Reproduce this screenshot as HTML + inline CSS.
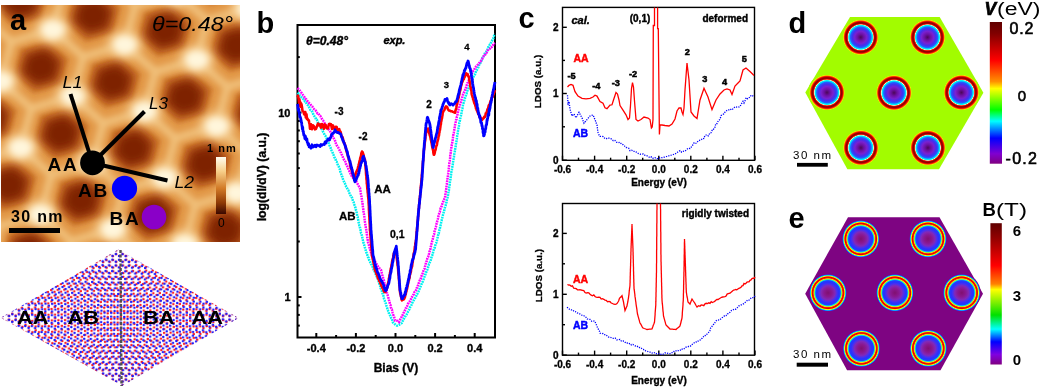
<!DOCTYPE html>
<html><head><meta charset="utf-8"><style>
html,body{margin:0;padding:0;background:#fff;width:1043px;height:388px;overflow:hidden}
svg{display:block;will-change:transform}
text{font-family:"Liberation Sans",sans-serif}
</style></head><body>
<svg width="1043" height="388" viewBox="0 0 1043 388"><defs><filter id="blur5" x="-50%" y="-50%" width="200%" height="200%"><feGaussianBlur stdDeviation="5"/></filter><filter id="blur2" x="-50%" y="-50%" width="200%" height="200%"><feGaussianBlur stdDeviation="2"/></filter><filter id="blur4" x="-50%" y="-50%" width="200%" height="200%"><feGaussianBlur stdDeviation="4"/></filter><filter id="blur3" x="-50%" y="-50%" width="200%" height="200%"><feGaussianBlur stdDeviation="3"/></filter><filter id="blur8" x="-50%" y="-50%" width="200%" height="200%"><feGaussianBlur stdDeviation="8"/></filter><clipPath id="clipA"><rect x="1" y="5" width="239" height="237"/></clipPath><linearGradient id="cbA" x1="0" y1="0" x2="0" y2="1"><stop offset="0" stop-color="#fffdf0"/><stop offset="0.25" stop-color="#f7cf8a"/><stop offset="0.55" stop-color="#d27a26"/><stop offset="0.8" stop-color="#8f3a05"/><stop offset="1" stop-color="#3a0800"/></linearGradient><radialGradient id="gD" cx="0.5" cy="0.5" r="0.5"><stop offset="0.000" stop-color="#4a0858"/><stop offset="0.158" stop-color="#6c10a0"/><stop offset="0.316" stop-color="#7a20d0"/><stop offset="0.447" stop-color="#4030f0"/><stop offset="0.542" stop-color="#2060ff"/><stop offset="0.589" stop-color="#00c8ff"/><stop offset="0.632" stop-color="#00f8f0"/><stop offset="0.663" stop-color="#d0ffd0"/><stop offset="0.689" stop-color="#ff3010"/><stop offset="0.726" stop-color="#b00000"/><stop offset="0.768" stop-color="#880000"/><stop offset="0.816" stop-color="#c00000"/><stop offset="0.853" stop-color="#ff2000"/><stop offset="0.884" stop-color="#ff9000"/><stop offset="0.911" stop-color="#e8f000"/><stop offset="0.937" stop-color="#a2fc00"/><stop offset="1.000" stop-color="#a2fc00"/></radialGradient><radialGradient id="gE" cx="0.5" cy="0.5" r="0.5"><stop offset="0.000" stop-color="#801070"/><stop offset="0.211" stop-color="#8a1890"/><stop offset="0.368" stop-color="#8228b8"/><stop offset="0.474" stop-color="#4830f0"/><stop offset="0.553" stop-color="#2a30ff"/><stop offset="0.642" stop-color="#2040ff"/><stop offset="0.679" stop-color="#00c0ff"/><stop offset="0.711" stop-color="#60ff60"/><stop offset="0.742" stop-color="#ffe000"/><stop offset="0.774" stop-color="#ff2000"/><stop offset="0.826" stop-color="#e00000"/><stop offset="0.858" stop-color="#ff6000"/><stop offset="0.884" stop-color="#ffff00"/><stop offset="0.905" stop-color="#40ff80"/><stop offset="0.926" stop-color="#00c0ff"/><stop offset="0.953" stop-color="#3030f0"/><stop offset="0.984" stop-color="#7e0482"/><stop offset="1.000" stop-color="#7e0482"/></radialGradient><linearGradient id="cbD" x1="0" y1="0" x2="0" y2="1"><stop offset="0" stop-color="#600000"/><stop offset="0.08" stop-color="#800000"/><stop offset="0.27" stop-color="#ff0000"/><stop offset="0.42" stop-color="#ff9000"/><stop offset="0.47" stop-color="#ffff00"/><stop offset="0.62" stop-color="#00ff00"/><stop offset="0.70" stop-color="#00ffff"/><stop offset="0.82" stop-color="#0000ff"/><stop offset="0.93" stop-color="#8000d0"/><stop offset="1" stop-color="#800080"/></linearGradient><linearGradient id="cbE" x1="0" y1="0" x2="0" y2="1"><stop offset="0" stop-color="#600000"/><stop offset="0.1" stop-color="#900000"/><stop offset="0.3" stop-color="#ff0000"/><stop offset="0.43" stop-color="#ff8000"/><stop offset="0.47" stop-color="#ffff00"/><stop offset="0.65" stop-color="#00e000"/><stop offset="0.75" stop-color="#00ffff"/><stop offset="0.84" stop-color="#0000ff"/><stop offset="0.93" stop-color="#8000e0"/><stop offset="1" stop-color="#800080"/></linearGradient><pattern id="latR" width="6.5818" height="11.4000" patternUnits="userSpaceOnUse" patternTransform="translate(0.8,317.8) rotate(-1.3764)"><circle cx="1.645" cy="1.900" r="1.25" fill="#ff1818"/><circle cx="4.936" cy="7.600" r="1.25" fill="#ff1818"/><circle cx="4.936" cy="3.800" r="1.25" fill="#ff1818"/><circle cx="1.645" cy="9.500" r="1.25" fill="#ff1818"/></pattern><pattern id="latB" width="6.5818" height="11.4000" patternUnits="userSpaceOnUse" patternTransform="translate(0.8,317.8) rotate(1.3764)"><circle cx="1.645" cy="1.900" r="1.25" fill="#1818ff"/><circle cx="4.936" cy="7.600" r="1.25" fill="#1818ff"/><circle cx="4.936" cy="3.800" r="1.25" fill="#1818ff"/><circle cx="1.645" cy="9.500" r="1.25" fill="#1818ff"/></pattern></defs>
<g clip-path="url(#clipA)"><rect x="0" y="0" width="245" height="245" fill="#e29848"/><polygon points="-10.4,70.2 -38.2,78.3 -58.7,60.2 -51.6,33.8 -23.8,25.7 -3.3,43.8" fill="#cc762c" filter="url(#blur2)"/><polygon points="9.6,136.7 -18.2,144.8 -38.7,126.7 -31.6,100.3 -3.8,92.2 16.7,110.3" fill="#cc762c" filter="url(#blur2)"/><polygon points="29.6,203.2 1.8,211.3 -18.7,193.2 -11.6,166.8 16.2,158.7 36.7,176.8" fill="#cc762c" filter="url(#blur2)"/><polygon points="49.6,269.7 21.8,277.8 1.3,259.7 8.4,233.3 36.2,225.2 56.7,243.3" fill="#cc762c" filter="url(#blur2)"/><polygon points="41.6,18.7 13.8,26.8 -6.7,8.7 0.4,-17.7 28.2,-25.8 48.7,-7.7" fill="#cc762c" filter="url(#blur2)"/><polygon points="61.6,85.2 33.8,93.3 13.3,75.2 20.4,48.8 48.2,40.7 68.7,58.8" fill="#cc762c" filter="url(#blur2)"/><polygon points="81.6,151.7 53.8,159.8 33.3,141.7 40.4,115.3 68.2,107.2 88.7,125.3" fill="#cc762c" filter="url(#blur2)"/><polygon points="101.6,218.2 73.8,226.3 53.3,208.2 60.4,181.8 88.2,173.7 108.7,191.8" fill="#cc762c" filter="url(#blur2)"/><polygon points="121.6,284.7 93.8,292.8 73.3,274.7 80.4,248.3 108.2,240.2 128.7,258.3" fill="#cc762c" filter="url(#blur2)"/><polygon points="113.6,33.7 85.8,41.8 65.3,23.7 72.4,-2.7 100.2,-10.8 120.7,7.3" fill="#cc762c" filter="url(#blur2)"/><polygon points="133.6,100.2 105.8,108.3 85.3,90.2 92.4,63.8 120.2,55.7 140.7,73.8" fill="#cc762c" filter="url(#blur2)"/><polygon points="153.6,166.7 125.8,174.8 105.3,156.7 112.4,130.3 140.2,122.2 160.7,140.3" fill="#cc762c" filter="url(#blur2)"/><polygon points="173.6,233.2 145.8,241.3 125.3,223.2 132.4,196.8 160.2,188.7 180.7,206.8" fill="#cc762c" filter="url(#blur2)"/><polygon points="193.6,299.7 165.8,307.8 145.3,289.7 152.4,263.3 180.2,255.2 200.7,273.3" fill="#cc762c" filter="url(#blur2)"/><polygon points="165.6,-17.8 137.8,-9.7 117.3,-27.8 124.4,-54.2 152.2,-62.3 172.7,-44.2" fill="#cc762c" filter="url(#blur2)"/><polygon points="185.6,48.7 157.8,56.8 137.3,38.7 144.4,12.3 172.2,4.2 192.7,22.3" fill="#cc762c" filter="url(#blur2)"/><polygon points="205.6,115.2 177.8,123.3 157.3,105.2 164.4,78.8 192.2,70.7 212.7,88.8" fill="#cc762c" filter="url(#blur2)"/><polygon points="225.6,181.7 197.8,189.8 177.3,171.7 184.4,145.3 212.2,137.2 232.7,155.3" fill="#cc762c" filter="url(#blur2)"/><polygon points="245.6,248.2 217.8,256.3 197.3,238.2 204.4,211.8 232.2,203.7 252.7,221.8" fill="#cc762c" filter="url(#blur2)"/><polygon points="237.6,-2.8 209.8,5.3 189.3,-12.8 196.4,-39.2 224.2,-47.3 244.7,-29.2" fill="#cc762c" filter="url(#blur2)"/><polygon points="257.6,63.7 229.8,71.8 209.3,53.7 216.4,27.3 244.2,19.2 264.7,37.3" fill="#cc762c" filter="url(#blur2)"/><polygon points="277.6,130.2 249.8,138.3 229.3,120.2 236.4,93.8 264.2,85.7 284.7,103.8" fill="#cc762c" filter="url(#blur2)"/><polygon points="297.6,196.7 269.8,204.8 249.3,186.7 256.4,160.3 284.2,152.2 304.7,170.3" fill="#cc762c" filter="url(#blur2)"/><path d="M-63.3,317.2l-41.4,12.1M-63.3,317.2l10.6,-39.4M-63.3,317.2l30.6,27.1M-71.3,66.2l-41.4,12.1M-71.3,66.2l10.6,-39.4M-71.3,66.2l30.6,27.1M-51.3,132.7l-41.4,12.1M-51.3,132.7l10.6,-39.4M-51.3,132.7l30.6,27.1M-31.3,199.2l-41.4,12.1M-31.3,199.2l10.6,-39.4M-31.3,199.2l30.6,27.1M-11.3,265.7l-41.4,12.1M-11.3,265.7l10.6,-39.4M-11.3,265.7l30.6,27.1M-39.3,-51.8l-41.4,12.1M-39.3,-51.8l10.6,-39.4M-39.3,-51.8l30.6,27.1M-19.3,14.7l-41.4,12.1M-19.3,14.7l10.6,-39.4M-19.3,14.7l30.6,27.1M0.7,81.2l-41.4,12.1M0.7,81.2l10.6,-39.4M0.7,81.2l30.6,27.1M20.7,147.7l-41.4,12.1M20.7,147.7l10.6,-39.4M20.7,147.7l30.6,27.1M40.7,214.2l-41.4,12.1M40.7,214.2l10.6,-39.4M40.7,214.2l30.6,27.1M60.7,280.7l-41.4,12.1M60.7,280.7l10.6,-39.4M60.7,280.7l30.6,27.1M32.7,-36.8l-41.4,12.1M32.7,-36.8l10.6,-39.4M32.7,-36.8l30.6,27.1M52.7,29.7l-41.4,12.1M52.7,29.7l10.6,-39.4M52.7,29.7l30.6,27.1M72.7,96.2l-41.4,12.1M72.7,96.2l10.6,-39.4M72.7,96.2l30.6,27.1M92.7,162.7l-41.4,12.1M92.7,162.7l10.6,-39.4M92.7,162.7l30.6,27.1M112.7,229.2l-41.4,12.1M112.7,229.2l10.6,-39.4M112.7,229.2l30.6,27.1M132.7,295.7l-41.4,12.1M132.7,295.7l10.6,-39.4M132.7,295.7l30.6,27.1M104.7,-21.8l-41.4,12.1M104.7,-21.8l10.6,-39.4M104.7,-21.8l30.6,27.1M124.7,44.7l-41.4,12.1M124.7,44.7l10.6,-39.4M124.7,44.7l30.6,27.1M144.7,111.2l-41.4,12.1M144.7,111.2l10.6,-39.4M144.7,111.2l30.6,27.1M164.7,177.7l-41.4,12.1M164.7,177.7l10.6,-39.4M164.7,177.7l30.6,27.1M184.7,244.2l-41.4,12.1M184.7,244.2l10.6,-39.4M184.7,244.2l30.6,27.1M204.7,310.7l-41.4,12.1M204.7,310.7l10.6,-39.4M204.7,310.7l30.6,27.1M156.7,-73.3l-41.4,12.1M156.7,-73.3l10.6,-39.4M156.7,-73.3l30.6,27.1M176.7,-6.8l-41.4,12.1M176.7,-6.8l10.6,-39.4M176.7,-6.8l30.6,27.1M196.7,59.7l-41.4,12.1M196.7,59.7l10.6,-39.4M196.7,59.7l30.6,27.1M216.7,126.2l-41.4,12.1M216.7,126.2l10.6,-39.4M216.7,126.2l30.6,27.1M236.7,192.7l-41.4,12.1M236.7,192.7l10.6,-39.4M236.7,192.7l30.6,27.1M256.7,259.2l-41.4,12.1M256.7,259.2l10.6,-39.4M256.7,259.2l30.6,27.1M228.7,-58.3l-41.4,12.1M228.7,-58.3l10.6,-39.4M228.7,-58.3l30.6,27.1M248.7,8.2l-41.4,12.1M248.7,8.2l10.6,-39.4M248.7,8.2l30.6,27.1M268.7,74.7l-41.4,12.1M268.7,74.7l10.6,-39.4M268.7,74.7l30.6,27.1M288.7,141.2l-41.4,12.1M288.7,141.2l10.6,-39.4M288.7,141.2l30.6,27.1M308.7,207.7l-41.4,12.1M308.7,207.7l10.6,-39.4M308.7,207.7l30.6,27.1M300.7,-43.3l-41.4,12.1M300.7,-43.3l10.6,-39.4M300.7,-43.3l30.6,27.1" stroke="#f0c07a" stroke-width="8" fill="none" filter="url(#blur3)"/><polygon points="-14.7,66.4 -36.7,72.8 -52.9,58.5 -47.3,37.6 -25.3,31.2 -9.1,45.5" fill="#ae4e14" filter="url(#blur3)"/><polygon points="-18.1,63.4 -35.5,68.5 -48.3,57.1 -43.9,40.6 -26.5,35.5 -13.7,46.9" fill="#7e2400" filter="url(#blur4)"/><polygon points="5.3,132.9 -16.7,139.3 -32.9,125.0 -27.3,104.1 -5.3,97.7 10.9,112.0" fill="#ae4e14" filter="url(#blur3)"/><polygon points="1.9,129.9 -15.5,135.0 -28.3,123.6 -23.9,107.1 -6.5,102.0 6.3,113.4" fill="#7e2400" filter="url(#blur4)"/><polygon points="25.3,199.4 3.3,205.8 -12.9,191.5 -7.3,170.6 14.7,164.2 30.9,178.5" fill="#ae4e14" filter="url(#blur3)"/><polygon points="21.9,196.4 4.5,201.5 -8.3,190.1 -3.9,173.6 13.5,168.5 26.3,179.9" fill="#7e2400" filter="url(#blur4)"/><polygon points="45.3,265.9 23.3,272.3 7.1,258.0 12.7,237.1 34.7,230.7 50.9,245.0" fill="#ae4e14" filter="url(#blur3)"/><polygon points="41.9,262.9 24.5,268.0 11.7,256.6 16.1,240.1 33.5,235.0 46.3,246.4" fill="#7e2400" filter="url(#blur4)"/><polygon points="37.3,14.9 15.3,21.3 -0.9,7.0 4.7,-13.9 26.7,-20.3 42.9,-6.0" fill="#ae4e14" filter="url(#blur3)"/><polygon points="33.9,11.9 16.5,17.0 3.7,5.6 8.1,-10.9 25.5,-16.0 38.3,-4.6" fill="#7e2400" filter="url(#blur4)"/><polygon points="57.3,81.4 35.3,87.8 19.1,73.5 24.7,52.6 46.7,46.2 62.9,60.5" fill="#ae4e14" filter="url(#blur3)"/><polygon points="53.9,78.4 36.5,83.5 23.7,72.1 28.1,55.6 45.5,50.5 58.3,61.9" fill="#7e2400" filter="url(#blur4)"/><polygon points="77.3,147.9 55.3,154.3 39.1,140.0 44.7,119.1 66.7,112.7 82.9,127.0" fill="#ae4e14" filter="url(#blur3)"/><polygon points="73.9,144.9 56.5,150.0 43.7,138.6 48.1,122.1 65.5,117.0 78.3,128.4" fill="#7e2400" filter="url(#blur4)"/><polygon points="97.3,214.4 75.3,220.8 59.1,206.5 64.7,185.6 86.7,179.2 102.9,193.5" fill="#ae4e14" filter="url(#blur3)"/><polygon points="93.9,211.4 76.5,216.5 63.7,205.1 68.1,188.6 85.5,183.5 98.3,194.9" fill="#7e2400" filter="url(#blur4)"/><polygon points="117.3,280.9 95.3,287.3 79.1,273.0 84.7,252.1 106.7,245.7 122.9,260.0" fill="#ae4e14" filter="url(#blur3)"/><polygon points="113.9,277.9 96.5,283.0 83.7,271.6 88.1,255.1 105.5,250.0 118.3,261.4" fill="#7e2400" filter="url(#blur4)"/><polygon points="109.3,29.9 87.3,36.3 71.1,22.0 76.7,1.1 98.7,-5.3 114.9,9.0" fill="#ae4e14" filter="url(#blur3)"/><polygon points="105.9,26.9 88.5,32.0 75.7,20.6 80.1,4.1 97.5,-1.0 110.3,10.4" fill="#7e2400" filter="url(#blur4)"/><polygon points="129.3,96.4 107.3,102.8 91.1,88.5 96.7,67.6 118.7,61.2 134.9,75.5" fill="#ae4e14" filter="url(#blur3)"/><polygon points="125.9,93.4 108.5,98.5 95.7,87.1 100.1,70.6 117.5,65.5 130.3,76.9" fill="#7e2400" filter="url(#blur4)"/><polygon points="149.3,162.9 127.3,169.3 111.1,155.0 116.7,134.1 138.7,127.7 154.9,142.0" fill="#ae4e14" filter="url(#blur3)"/><polygon points="145.9,159.9 128.5,165.0 115.7,153.6 120.1,137.1 137.5,132.0 150.3,143.4" fill="#7e2400" filter="url(#blur4)"/><polygon points="169.3,229.4 147.3,235.8 131.1,221.5 136.7,200.6 158.7,194.2 174.9,208.5" fill="#ae4e14" filter="url(#blur3)"/><polygon points="165.9,226.4 148.5,231.5 135.7,220.1 140.1,203.6 157.5,198.5 170.3,209.9" fill="#7e2400" filter="url(#blur4)"/><polygon points="189.3,295.9 167.3,302.3 151.1,288.0 156.7,267.1 178.7,260.7 194.9,275.0" fill="#ae4e14" filter="url(#blur3)"/><polygon points="185.9,292.9 168.5,298.0 155.7,286.6 160.1,270.1 177.5,265.0 190.3,276.4" fill="#7e2400" filter="url(#blur4)"/><polygon points="161.3,-21.6 139.3,-15.2 123.1,-29.5 128.7,-50.4 150.7,-56.8 166.9,-42.5" fill="#ae4e14" filter="url(#blur3)"/><polygon points="157.9,-24.6 140.5,-19.5 127.7,-30.9 132.1,-47.4 149.5,-52.5 162.3,-41.1" fill="#7e2400" filter="url(#blur4)"/><polygon points="181.3,44.9 159.3,51.3 143.1,37.0 148.7,16.1 170.7,9.7 186.9,24.0" fill="#ae4e14" filter="url(#blur3)"/><polygon points="177.9,41.9 160.5,47.0 147.7,35.6 152.1,19.1 169.5,14.0 182.3,25.4" fill="#7e2400" filter="url(#blur4)"/><polygon points="201.3,111.4 179.3,117.8 163.1,103.5 168.7,82.6 190.7,76.2 206.9,90.5" fill="#ae4e14" filter="url(#blur3)"/><polygon points="197.9,108.4 180.5,113.5 167.7,102.1 172.1,85.6 189.5,80.5 202.3,91.9" fill="#7e2400" filter="url(#blur4)"/><polygon points="221.3,177.9 199.3,184.3 183.1,170.0 188.7,149.1 210.7,142.7 226.9,157.0" fill="#ae4e14" filter="url(#blur3)"/><polygon points="217.9,174.9 200.5,180.0 187.7,168.6 192.1,152.1 209.5,147.0 222.3,158.4" fill="#7e2400" filter="url(#blur4)"/><polygon points="241.3,244.4 219.3,250.8 203.1,236.5 208.7,215.6 230.7,209.2 246.9,223.5" fill="#ae4e14" filter="url(#blur3)"/><polygon points="237.9,241.4 220.5,246.5 207.7,235.1 212.1,218.6 229.5,213.5 242.3,224.9" fill="#7e2400" filter="url(#blur4)"/><polygon points="233.3,-6.6 211.3,-0.2 195.1,-14.5 200.7,-35.4 222.7,-41.8 238.9,-27.5" fill="#ae4e14" filter="url(#blur3)"/><polygon points="229.9,-9.6 212.5,-4.5 199.7,-15.9 204.1,-32.4 221.5,-37.5 234.3,-26.1" fill="#7e2400" filter="url(#blur4)"/><polygon points="253.3,59.9 231.3,66.3 215.1,52.0 220.7,31.1 242.7,24.7 258.9,39.0" fill="#ae4e14" filter="url(#blur3)"/><polygon points="249.9,56.9 232.5,62.0 219.7,50.6 224.1,34.1 241.5,29.0 254.3,40.4" fill="#7e2400" filter="url(#blur4)"/><polygon points="273.3,126.4 251.3,132.8 235.1,118.5 240.7,97.6 262.7,91.2 278.9,105.5" fill="#ae4e14" filter="url(#blur3)"/><polygon points="269.9,123.4 252.5,128.5 239.7,117.1 244.1,100.6 261.5,95.5 274.3,106.9" fill="#7e2400" filter="url(#blur4)"/><polygon points="293.3,192.9 271.3,199.3 255.1,185.0 260.7,164.1 282.7,157.7 298.9,172.0" fill="#ae4e14" filter="url(#blur3)"/><polygon points="289.9,189.9 272.5,195.0 259.7,183.6 264.1,167.1 281.5,162.0 294.3,173.4" fill="#7e2400" filter="url(#blur4)"/><ellipse cx="-31.3" cy="199.2" rx="17" ry="14" fill="#f6d096" filter="url(#blur5)"/><ellipse cx="-31.3" cy="199.2" rx="11" ry="9" fill="#fff6dc" filter="url(#blur3)"/><ellipse cx="-11.3" cy="265.7" rx="17" ry="14" fill="#f6d096" filter="url(#blur5)"/><ellipse cx="-11.3" cy="265.7" rx="11" ry="9" fill="#fff6dc" filter="url(#blur3)"/><ellipse cx="-19.3" cy="14.7" rx="17" ry="14" fill="#f6d096" filter="url(#blur5)"/><ellipse cx="-19.3" cy="14.7" rx="11" ry="9" fill="#fff6dc" filter="url(#blur3)"/><ellipse cx="0.7" cy="81.2" rx="17" ry="14" fill="#f6d096" filter="url(#blur5)"/><ellipse cx="0.7" cy="81.2" rx="11" ry="9" fill="#fff6dc" filter="url(#blur3)"/><ellipse cx="20.7" cy="147.7" rx="17" ry="14" fill="#f6d096" filter="url(#blur5)"/><ellipse cx="20.7" cy="147.7" rx="11" ry="9" fill="#fff6dc" filter="url(#blur3)"/><ellipse cx="40.7" cy="214.2" rx="17" ry="14" fill="#f6d096" filter="url(#blur5)"/><ellipse cx="40.7" cy="214.2" rx="11" ry="9" fill="#fff6dc" filter="url(#blur3)"/><ellipse cx="60.7" cy="280.7" rx="17" ry="14" fill="#f6d096" filter="url(#blur5)"/><ellipse cx="60.7" cy="280.7" rx="11" ry="9" fill="#fff6dc" filter="url(#blur3)"/><ellipse cx="32.7" cy="-36.8" rx="17" ry="14" fill="#f6d096" filter="url(#blur5)"/><ellipse cx="32.7" cy="-36.8" rx="11" ry="9" fill="#fff6dc" filter="url(#blur3)"/><ellipse cx="52.7" cy="29.7" rx="17" ry="14" fill="#f6d096" filter="url(#blur5)"/><ellipse cx="52.7" cy="29.7" rx="11" ry="9" fill="#fff6dc" filter="url(#blur3)"/><ellipse cx="72.7" cy="96.2" rx="17" ry="14" fill="#f6d096" filter="url(#blur5)"/><ellipse cx="72.7" cy="96.2" rx="11" ry="9" fill="#fff6dc" filter="url(#blur3)"/><ellipse cx="92.7" cy="162.7" rx="17" ry="14" fill="#f6d096" filter="url(#blur5)"/><ellipse cx="92.7" cy="162.7" rx="11" ry="9" fill="#fff6dc" filter="url(#blur3)"/><ellipse cx="112.7" cy="229.2" rx="17" ry="14" fill="#f6d096" filter="url(#blur5)"/><ellipse cx="112.7" cy="229.2" rx="11" ry="9" fill="#fff6dc" filter="url(#blur3)"/><ellipse cx="104.7" cy="-21.8" rx="17" ry="14" fill="#f6d096" filter="url(#blur5)"/><ellipse cx="104.7" cy="-21.8" rx="11" ry="9" fill="#fff6dc" filter="url(#blur3)"/><ellipse cx="124.7" cy="44.7" rx="17" ry="14" fill="#f6d096" filter="url(#blur5)"/><ellipse cx="124.7" cy="44.7" rx="11" ry="9" fill="#fff6dc" filter="url(#blur3)"/><ellipse cx="144.7" cy="111.2" rx="17" ry="14" fill="#f6d096" filter="url(#blur5)"/><ellipse cx="144.7" cy="111.2" rx="11" ry="9" fill="#fff6dc" filter="url(#blur3)"/><ellipse cx="164.7" cy="177.7" rx="17" ry="14" fill="#f6d096" filter="url(#blur5)"/><ellipse cx="164.7" cy="177.7" rx="11" ry="9" fill="#fff6dc" filter="url(#blur3)"/><ellipse cx="184.7" cy="244.2" rx="17" ry="14" fill="#f6d096" filter="url(#blur5)"/><ellipse cx="184.7" cy="244.2" rx="11" ry="9" fill="#fff6dc" filter="url(#blur3)"/><ellipse cx="176.7" cy="-6.8" rx="17" ry="14" fill="#f6d096" filter="url(#blur5)"/><ellipse cx="176.7" cy="-6.8" rx="11" ry="9" fill="#fff6dc" filter="url(#blur3)"/><ellipse cx="196.7" cy="59.7" rx="17" ry="14" fill="#f6d096" filter="url(#blur5)"/><ellipse cx="196.7" cy="59.7" rx="11" ry="9" fill="#fff6dc" filter="url(#blur3)"/><ellipse cx="216.7" cy="126.2" rx="17" ry="14" fill="#f6d096" filter="url(#blur5)"/><ellipse cx="216.7" cy="126.2" rx="11" ry="9" fill="#fff6dc" filter="url(#blur3)"/><ellipse cx="236.7" cy="192.7" rx="17" ry="14" fill="#f6d096" filter="url(#blur5)"/><ellipse cx="236.7" cy="192.7" rx="11" ry="9" fill="#fff6dc" filter="url(#blur3)"/><ellipse cx="256.7" cy="259.2" rx="17" ry="14" fill="#f6d096" filter="url(#blur5)"/><ellipse cx="256.7" cy="259.2" rx="11" ry="9" fill="#fff6dc" filter="url(#blur3)"/><ellipse cx="248.7" cy="8.2" rx="17" ry="14" fill="#f6d096" filter="url(#blur5)"/><ellipse cx="248.7" cy="8.2" rx="11" ry="9" fill="#fff6dc" filter="url(#blur3)"/><ellipse cx="268.7" cy="74.7" rx="17" ry="14" fill="#f6d096" filter="url(#blur5)"/><ellipse cx="268.7" cy="74.7" rx="11" ry="9" fill="#fff6dc" filter="url(#blur3)"/></g>
<text x="10" y="30" font-family="Liberation Sans, sans-serif" font-weight="bold" font-size="29" fill="#000">a</text>
<text x="152" y="30.5" font-family="Liberation Sans, sans-serif" font-style="italic" font-size="19.5" textLength="81" lengthAdjust="spacingAndGlyphs" fill="#000">θ=0.48°</text>
<g stroke="#000" stroke-width="4" stroke-linecap="butt"><line x1="92.5" y1="163" x2="70.5" y2="94"/><line x1="92.5" y1="163" x2="144.5" y2="111.5"/><line x1="92.5" y1="163" x2="167.5" y2="180.5"/></g>
<circle cx="92.5" cy="162.8" r="12.4" fill="#000"/>
<circle cx="124.5" cy="188.4" r="12.6" fill="#0000ff"/>
<circle cx="154" cy="217" r="12.3" fill="#8a00c8"/>
<text x="62.5" y="87.8" font-family="Liberation Sans, sans-serif" font-style="italic" font-size="16" textLength="20" lengthAdjust="spacingAndGlyphs" fill="#000">L1</text>
<text x="149" y="109" font-family="Liberation Sans, sans-serif" font-style="italic" font-size="16" textLength="19" lengthAdjust="spacingAndGlyphs" fill="#000">L3</text>
<text x="174.5" y="187.7" font-family="Liberation Sans, sans-serif" font-style="italic" font-size="16" textLength="19.5" lengthAdjust="spacingAndGlyphs" fill="#000">L2</text>
<text x="47.5" y="171.3" font-family="Liberation Sans, sans-serif" font-weight="bold" font-size="19" letter-spacing="1.8" fill="#000">AA</text>
<text x="78" y="197" font-family="Liberation Sans, sans-serif" font-weight="bold" font-size="19" letter-spacing="1.8" fill="#000">AB</text>
<text x="109.5" y="225" font-family="Liberation Sans, sans-serif" font-weight="bold" font-size="19" letter-spacing="1.8" fill="#000">BA</text>
<text x="11" y="221.5" font-family="Liberation Sans, sans-serif" font-weight="bold" font-size="16" letter-spacing="1.3" fill="#000">30 nm</text>
<rect x="9" y="228" width="51" height="5" fill="#000"/>
<rect x="216" y="157" width="10" height="57" fill="url(#cbA)"/>
<text x="207" y="152.3" font-family="Liberation Sans, sans-serif" font-weight="bold" font-size="11" letter-spacing="1" fill="#000">1 nm</text>
<text x="221.3" y="227.3" font-family="Liberation Sans, sans-serif" font-size="12" text-anchor="middle" fill="#000">0</text>
<polygon points="118.3,249.6 238.5,317.9 122.2,385.8 0.8,317.8" fill="url(#latR)"/>
<polygon points="118.3,249.6 238.5,317.9 122.2,385.8 0.8,317.8" fill="url(#latB)"/>
<line x1="120.5" y1="250" x2="121.5" y2="386" stroke="#505050" stroke-width="2.4" stroke-dasharray="3,1.5"/>
<text x="17.0" y="324.3" font-family="Liberation Sans, sans-serif" font-weight="bold" font-size="18" textLength="31.5" lengthAdjust="spacingAndGlyphs" fill="#000">AA</text>
<text x="67.5" y="324.3" font-family="Liberation Sans, sans-serif" font-weight="bold" font-size="18" textLength="31.5" lengthAdjust="spacingAndGlyphs" fill="#000">AB</text>
<text x="143.1" y="324.3" font-family="Liberation Sans, sans-serif" font-weight="bold" font-size="18" textLength="31.5" lengthAdjust="spacingAndGlyphs" fill="#000">BA</text>
<text x="191.6" y="324.3" font-family="Liberation Sans, sans-serif" font-weight="bold" font-size="18" textLength="31.5" lengthAdjust="spacingAndGlyphs" fill="#000">AA</text>
<text x="256.6" y="32.8" font-family="Liberation Sans, sans-serif" font-weight="bold" font-size="29" fill="#000">b</text>
<rect x="297.5" y="25" width="197.5" height="312.5" fill="none" stroke="#000" stroke-width="2"/>
<g stroke="#000" stroke-width="2"><line x1="297.5" y1="325.6" x2="299.8" y2="325.6"/><line x1="297.5" y1="314.9" x2="299.8" y2="314.9"/><line x1="297.5" y1="305.4" x2="299.8" y2="305.4"/><line x1="297.5" y1="241.5" x2="299.8" y2="241.5"/><line x1="297.5" y1="209.0" x2="299.8" y2="209.0"/><line x1="297.5" y1="186.0" x2="299.8" y2="186.0"/><line x1="297.5" y1="168.1" x2="299.8" y2="168.1"/><line x1="297.5" y1="153.5" x2="299.8" y2="153.5"/><line x1="297.5" y1="141.2" x2="299.8" y2="141.2"/><line x1="297.5" y1="130.5" x2="299.8" y2="130.5"/><line x1="297.5" y1="121.0" x2="299.8" y2="121.0"/><line x1="297.5" y1="57.1" x2="299.8" y2="57.1"/><line x1="297.5" y1="297.0" x2="301.5" y2="297.0"/><line x1="297.5" y1="112.6" x2="301.5" y2="112.6"/><line x1="316.3" y1="337.5" x2="316.3" y2="333.0"/><line x1="336.1" y1="337.5" x2="336.1" y2="335.0"/><line x1="355.9" y1="337.5" x2="355.9" y2="333.0"/><line x1="375.7" y1="337.5" x2="375.7" y2="335.0"/><line x1="395.5" y1="337.5" x2="395.5" y2="333.0"/><line x1="415.3" y1="337.5" x2="415.3" y2="335.0"/><line x1="435.1" y1="337.5" x2="435.1" y2="333.0"/><line x1="454.9" y1="337.5" x2="454.9" y2="335.0"/><line x1="474.7" y1="337.5" x2="474.7" y2="333.0"/></g>
<text x="316.3" y="351.5" font-family="Liberation Sans, sans-serif" font-weight="bold" font-size="11" text-anchor="middle" stroke="#000" stroke-width="0.35" fill="#000">-0.4</text>
<text x="355.9" y="351.5" font-family="Liberation Sans, sans-serif" font-weight="bold" font-size="11" text-anchor="middle" stroke="#000" stroke-width="0.35" fill="#000">-0.2</text>
<text x="395.5" y="351.5" font-family="Liberation Sans, sans-serif" font-weight="bold" font-size="11" text-anchor="middle" stroke="#000" stroke-width="0.35" fill="#000">0.0</text>
<text x="435.1" y="351.5" font-family="Liberation Sans, sans-serif" font-weight="bold" font-size="11" text-anchor="middle" stroke="#000" stroke-width="0.35" fill="#000">0.2</text>
<text x="474.7" y="351.5" font-family="Liberation Sans, sans-serif" font-weight="bold" font-size="11" text-anchor="middle" stroke="#000" stroke-width="0.35" fill="#000">0.4</text>
<text x="290.5" y="116.5" font-family="Liberation Sans, sans-serif" font-weight="bold" font-size="11" text-anchor="end" stroke="#000" stroke-width="0.35" fill="#000">10</text>
<text x="290.5" y="301" font-family="Liberation Sans, sans-serif" font-weight="bold" font-size="11" text-anchor="end" stroke="#000" stroke-width="0.35" fill="#000">1</text>
<text x="396" y="372" font-family="Liberation Sans, sans-serif" font-weight="bold" stroke="#000" stroke-width="0.35" font-size="12" text-anchor="middle" fill="#000">Bias (V)</text>
<text transform="translate(265.5,177) rotate(-90)" font-family="Liberation Sans, sans-serif" font-weight="bold" stroke="#000" stroke-width="0.35" font-size="12.2" text-anchor="middle" fill="#000">log(dI/dV) (a.u.)</text>
<text x="306" y="44.5" font-family="Liberation Sans, sans-serif" font-weight="bold" font-style="italic" font-size="12" textLength="42" lengthAdjust="spacingAndGlyphs" stroke="#000" stroke-width="0.4" fill="#000">θ=0.48°</text>
<text x="383.4" y="43.5" font-family="Liberation Sans, sans-serif" font-weight="bold" font-style="italic" font-size="11" stroke="#000" stroke-width="0.4" fill="#000">exp.</text>
<text x="339" y="115.3" font-family="Liberation Sans, sans-serif" font-weight="bold" font-size="10" text-anchor="middle" stroke="#000" stroke-width="0.3" fill="#000">-3</text>
<text x="363" y="139.8" font-family="Liberation Sans, sans-serif" font-weight="bold" font-size="10" text-anchor="middle" stroke="#000" stroke-width="0.3" fill="#000">-2</text>
<text x="429" y="107.6" font-family="Liberation Sans, sans-serif" font-weight="bold" font-size="10" text-anchor="middle" stroke="#000" stroke-width="0.3" fill="#000">2</text>
<text x="446.4" y="88.1" font-family="Liberation Sans, sans-serif" font-weight="bold" font-size="9.5" text-anchor="middle" stroke="#000" stroke-width="0.3" fill="#000">3</text>
<text x="467" y="49.9" font-family="Liberation Sans, sans-serif" font-weight="bold" font-size="9.5" text-anchor="middle" stroke="#000" stroke-width="0.3" fill="#000">4</text>
<text x="397.3" y="237.8" font-family="Liberation Sans, sans-serif" font-weight="bold" font-size="10.5" text-anchor="middle" stroke="#000" stroke-width="0.3" fill="#000">0,1</text>
<text x="382.5" y="192.6" font-family="Liberation Sans, sans-serif" font-weight="bold" font-size="11.5" text-anchor="middle" stroke="#000" stroke-width="0.3" fill="#000">AA</text>
<text x="347.2" y="219.6" font-family="Liberation Sans, sans-serif" font-weight="bold" font-size="11.5" text-anchor="middle" stroke="#000" stroke-width="0.3" fill="#000">AB</text>
<polyline points="297.5,92.8 298.6,93.7 299.7,95.5 300.8,96.0 301.8,97.7 302.9,98.7 304.0,99.5 304.9,101.4 305.9,102.2 306.8,104.1 307.7,105.0 308.7,106.4 309.6,108.2 310.5,110.0 311.5,110.6 312.4,112.1 313.1,113.9 313.9,115.6 314.6,116.5 315.4,117.6 316.1,119.6 316.9,119.8 317.6,122.1 318.4,122.8 319.1,123.9 319.9,125.2 320.6,126.8 321.3,128.7 322.0,129.3 322.7,131.1 323.4,132.5 324.0,133.5 324.7,135.1 325.4,135.8 326.1,137.1 326.8,138.6 327.4,140.7 328.0,141.8 328.7,143.2 329.3,144.9 329.9,146.2 330.5,147.5 331.1,149.6 331.8,150.9 332.4,151.8 333.0,153.7 333.6,155.1 334.2,156.9 334.9,158.2 335.5,159.1 336.1,161.4 336.7,161.8 337.3,163.6 338.0,165.4 338.6,166.1 339.2,168.0 339.7,168.9 340.2,171.2 340.7,172.8 341.2,174.1 341.8,176.0 342.3,176.8 342.8,178.7 343.3,180.1 344.0,181.7 344.8,183.1 345.5,185.2 346.3,186.9 347.0,188.0 347.7,189.6 348.4,190.3 349.1,192.5 349.9,193.9 350.6,195.7 351.3,197.0 352.0,197.7 352.5,199.4 353.0,201.2 353.5,201.9 354.0,204.0 354.5,205.1 355.0,206.5 355.5,208.0 356.0,210.3 356.3,211.1 356.7,212.7 357.0,214.4 357.3,216.4 357.7,217.0 358.0,218.9 358.3,220.6 358.7,222.5 359.0,223.9 359.3,225.4 359.7,226.2 360.0,227.9 360.4,229.4 360.7,231.6 361.1,233.2 361.5,233.8 361.8,235.3 362.2,237.0 362.5,238.5 362.9,240.3 363.3,242.0 363.6,243.2 364.0,244.4 364.5,246.4 365.0,247.8 365.5,249.6 366.0,251.5 366.5,252.7 367.0,254.0 367.5,255.6 368.0,257.2 368.6,257.8 369.2,260.2 369.9,261.5 370.5,262.9 371.1,264.2 371.8,265.1 372.4,266.5 373.0,267.5 373.6,269.7 374.2,270.5 374.9,272.0 375.5,273.7 376.1,275.1 376.8,276.8 377.4,278.0 378.0,279.4 378.5,281.1 379.0,282.5 379.5,284.3 380.0,285.4 380.5,287.9 381.0,289.1 381.5,290.1 382.0,291.7 382.5,293.3 383.0,294.8 383.5,296.0 383.9,298.3 384.4,300.0 384.8,300.8 385.3,302.3 385.7,303.2 386.2,304.7 386.6,306.4 387.1,307.8 387.5,309.9 388.0,310.6 388.6,311.8 389.2,314.3 389.9,315.2 390.5,316.1 391.1,317.9 391.8,318.7 392.4,320.7 393.0,322.6 394.3,323.8 395.7,324.9 397.0,325.7 399.0,324.8 401.0,323.6 401.8,322.9 402.5,321.3 403.3,320.2 404.1,318.3 404.8,316.7 405.6,316.1 406.4,314.9 407.2,313.3 407.9,311.9 408.7,310.5 409.5,309.1 410.2,307.1 411.0,306.0 411.7,304.4 412.4,302.6 413.1,301.1 413.9,300.0 414.6,298.6 415.3,297.7 416.0,296.5 416.7,294.5 417.4,293.7 418.1,292.3 418.9,290.8 419.6,288.7 420.3,287.1 421.0,285.7 421.5,284.2 422.1,282.8 422.6,281.9 423.1,280.8 423.6,279.3 424.2,277.5 424.7,276.3 425.2,275.1 425.8,272.8 426.3,272.1 426.8,271.0 427.4,269.4 427.9,267.9 428.4,266.2 428.9,264.4 429.5,263.8 430.0,261.8 430.5,260.9 430.9,259.6 431.4,257.5 431.9,256.0 432.3,255.2 432.8,253.5 433.3,251.3 433.7,249.8 434.2,248.4 434.7,247.8 435.1,246.2 435.6,244.0 436.1,243.3 436.5,242.0 437.0,240.2 437.4,238.3 437.7,237.1 438.1,235.1 438.4,233.5 438.8,233.2 439.1,231.4 439.5,229.7 439.8,228.8 440.2,226.7 440.5,225.7 440.9,224.2 441.2,222.0 441.6,220.6 441.9,219.2 442.3,217.6 442.6,216.6 443.0,214.7 443.4,213.4 443.8,211.6 444.2,211.1 444.5,209.0 444.9,207.6 445.3,206.3 445.7,205.3 446.1,203.2 446.5,202.3 446.8,200.4 447.2,199.0 447.6,197.5 448.0,195.4 448.2,194.4 448.4,192.6 448.6,190.9 448.9,190.4 449.1,188.1 449.3,187.0 449.5,185.8 449.7,184.1 449.9,182.3 450.1,181.0 450.4,179.6 450.6,178.3 450.8,176.0 451.0,175.1 451.2,173.1 451.5,171.6 451.8,170.6 452.0,168.8 452.2,167.3 452.5,165.9 452.8,164.6 453.0,162.4 453.2,161.1 453.5,159.4 453.8,157.8 454.0,156.5 454.2,154.6 454.5,153.2 454.8,151.5 455.0,150.5 455.2,148.7 455.5,147.3 455.8,145.8 456.0,143.5 456.2,142.3 456.5,141.2 456.8,139.5 457.0,137.1 457.2,135.5 457.5,134.3 457.8,132.3 458.0,130.9 458.2,129.2 458.5,128.3 458.8,126.9 459.0,125.5 459.3,123.0 459.6,122.2 459.9,120.6 460.2,118.4 460.5,117.8 460.8,116.3 461.2,113.9 461.5,113.2 461.8,111.0 462.1,109.6 462.4,108.7 462.7,106.9 463.0,104.6 463.4,103.5 463.9,102.1 464.3,100.5 464.8,98.9 465.2,97.6 465.7,96.6 466.1,94.3 466.6,93.5 467.0,91.9 467.6,90.0 468.1,88.9 468.7,87.9 469.3,86.3 469.9,84.3 470.4,84.0 471.0,82.3 471.8,81.0 472.6,78.3 473.4,76.9 474.2,75.0 475.0,74.3 475.7,72.3 476.3,70.7 477.0,69.7 477.7,68.8 478.3,67.3 479.0,65.2 479.7,63.7 480.3,63.2 481.0,61.3 481.7,60.1 482.3,57.9 483.0,56.5 483.8,55.9 484.5,54.2 485.2,52.5 486.0,52.2 486.8,50.5 487.5,49.4 488.2,47.2 489.0,46.8 489.8,44.5 490.5,44.1 491.2,42.3 492.0,40.8 492.6,39.7 493.2,38.7 493.8,36.5 494.4,35.0 495.0,34.0" fill="none" stroke="#00f0f0" stroke-width="2.5" stroke-dasharray="1.8,0.8"/>
<polyline points="297.5,88.0 298.5,89.0 299.4,90.1 300.4,91.4 301.3,92.6 302.3,94.0 303.2,95.4 304.2,96.7 305.1,98.5 306.1,99.2 307.0,100.7 308.0,101.6 309.1,103.0 310.1,103.8 311.1,105.3 312.2,106.3 313.2,108.3 314.3,109.3 315.4,110.1 316.4,111.6 317.5,113.4 318.5,113.6 319.6,115.7 320.6,116.4 321.4,117.8 322.2,119.4 323.0,120.2 323.8,121.6 324.6,123.1 325.4,124.7 326.2,125.2 327.0,127.1 327.8,128.2 328.6,129.4 329.4,130.3 330.2,131.5 331.0,132.5 331.7,134.0 332.4,135.4 333.1,137.6 333.8,138.5 334.5,139.8 335.2,141.1 335.9,143.5 336.6,145.0 337.3,146.2 338.0,147.1 338.7,148.6 339.5,150.1 340.2,151.7 341.0,152.8 341.7,154.6 342.4,155.9 343.2,158.2 343.9,159.6 344.7,160.6 345.4,161.7 346.0,164.0 346.6,164.6 347.2,166.1 347.8,167.1 348.4,169.0 349.1,170.5 349.7,172.0 350.3,173.1 350.9,174.9 351.5,175.7 352.7,177.3 353.8,178.3 355.0,179.9 355.8,180.8 356.7,182.1 357.5,183.8 358.3,185.0 359.2,186.8 360.0,188.0 360.2,189.8 360.5,191.2 360.8,192.8 361.0,194.5 361.2,195.4 361.5,196.8 361.8,199.1 362.0,199.6 362.2,201.8 362.4,203.3 362.6,204.2 362.9,206.7 363.1,208.3 363.3,209.6 363.5,211.3 363.7,212.9 363.9,213.7 364.1,215.7 364.4,217.3 364.6,219.3 364.8,220.8 365.0,222.4 365.2,223.6 365.5,225.5 365.7,226.8 365.9,228.4 366.2,229.4 366.4,230.7 366.6,232.3 366.8,234.1 367.1,235.4 367.3,237.8 367.5,239.0 367.8,240.6 368.0,242.2 368.4,243.8 368.9,245.1 369.3,246.1 369.8,248.6 370.2,250.1 370.7,251.3 371.1,252.9 371.6,254.6 372.0,255.5 372.8,257.8 373.7,258.7 374.5,260.0 375.3,261.7 376.2,263.8 377.0,264.6 378.0,266.5 379.0,268.1 380.0,268.7 381.0,269.9 381.4,271.5 381.8,273.2 382.2,274.8 382.6,276.1 383.0,277.7 383.4,278.5 383.8,280.1 384.2,281.7 384.6,283.8 385.0,284.8 385.4,286.5 385.8,287.3 386.2,288.9 386.5,290.6 386.9,292.5 387.3,294.0 387.7,295.4 388.1,296.4 388.5,298.2 388.8,299.6 389.2,301.0 389.6,302.1 390.0,304.5 390.5,305.1 390.9,307.5 391.4,308.9 391.8,309.2 392.3,311.2 392.7,313.1 393.2,314.7 393.6,315.6 394.1,316.8 394.5,318.2 395.0,320.5 397.0,320.7 399.0,322.1 399.8,320.1 400.5,319.0 401.2,318.0 402.0,315.6 402.8,314.9 403.5,313.0 404.2,312.0 405.0,310.2 405.7,308.3 406.5,307.8 407.2,306.0 407.9,304.1 408.7,302.7 409.4,302.0 410.1,300.6 410.9,299.1 411.6,297.6 412.3,296.5 413.1,295.1 413.8,294.4 414.5,292.1 415.3,291.6 416.0,290.4 416.6,288.1 417.1,287.7 417.7,286.0 418.3,284.8 418.9,282.6 419.4,281.3 420.0,279.9 420.6,279.2 421.1,277.2 421.7,275.5 422.3,274.2 422.9,272.6 423.4,270.9 424.0,269.5 424.5,268.9 424.9,266.7 425.4,265.9 425.8,263.5 426.3,262.0 426.8,260.8 427.2,258.9 427.7,257.5 428.2,256.7 428.6,255.1 429.1,253.5 429.5,251.7 430.0,250.5 430.4,249.1 430.7,247.1 431.1,245.8 431.5,243.6 431.8,242.9 432.2,241.1 432.6,240.0 432.9,238.4 433.3,236.5 433.7,234.7 434.1,234.3 434.4,231.9 434.8,230.8 435.2,229.2 435.5,227.7 435.9,226.7 436.3,225.5 436.6,223.2 437.0,222.2 437.4,220.3 437.8,219.1 438.2,217.4 438.6,215.6 439.0,214.1 439.4,212.6 439.8,212.0 440.2,210.0 440.6,208.2 441.0,207.5 441.7,206.1 442.3,203.9 443.0,202.1 443.7,200.6 444.3,199.0 445.0,197.8 445.2,196.0 445.4,194.6 445.6,193.1 445.8,192.0 446.0,190.8 446.2,189.1 446.4,187.2 446.6,185.6 446.8,184.2 447.0,182.5 447.2,180.9 447.4,179.1 447.6,177.8 447.8,177.1 448.0,174.6 448.2,173.4 448.4,172.0 448.6,170.7 448.8,168.4 448.9,166.9 449.1,165.3 449.3,163.9 449.5,162.4 449.7,161.5 449.9,159.8 450.1,158.3 450.2,155.7 450.4,154.1 450.6,153.4 450.8,152.0 451.0,150.0 451.2,148.5 451.5,146.3 451.8,145.2 452.0,144.3 452.2,142.6 452.5,141.1 452.8,139.6 453.0,137.2 453.2,135.5 453.5,134.0 453.8,132.8 454.0,131.5 454.2,130.2 454.5,128.4 454.8,126.7 455.0,125.3 455.4,123.4 455.7,122.0 456.1,119.8 456.5,119.2 456.8,117.0 457.2,116.2 457.5,114.4 457.9,112.4 458.3,110.6 458.6,109.2 459.0,108.2 459.4,106.8 459.9,104.6 460.3,103.2 460.8,102.3 461.2,100.9 461.7,99.2 462.1,97.6 462.6,96.6 463.0,94.4 463.6,93.3 464.1,92.1 464.7,91.2 465.2,89.4 465.8,88.2 466.3,86.3 466.9,84.6 467.4,83.1 468.0,82.6 468.6,80.9 469.2,79.0 469.9,77.3 470.5,76.5 471.1,75.3 471.8,73.7 472.4,72.1 473.0,71.2 474.0,70.2 475.0,68.1 476.0,66.6 477.0,65.7 478.0,64.5 479.0,63.5 480.0,61.6 480.9,61.0 481.9,59.5 482.8,57.9 483.8,56.1 484.7,55.7 485.6,53.5 486.6,52.8 487.5,50.7 488.6,49.5 489.6,49.0 490.7,47.3 491.8,47.0 492.9,45.3 493.9,43.8 495.0,43.0" fill="none" stroke="#ff00ff" stroke-width="2.5" stroke-dasharray="1.8,0.8"/>
<polyline points="297.5,95.5 297.8,96.5 298.1,95.9 298.5,97.9 298.8,100.2 299.1,102.8 299.4,99.2 299.7,101.6 300.0,101.5 300.4,106.7 300.7,103.0 301.0,103.5 301.5,104.4 302.0,107.2 302.5,110.9 303.0,111.6 303.5,111.7 304.0,114.0 304.5,114.5 305.0,112.0 305.4,112.2 305.8,117.4 306.2,117.4 306.5,114.4 306.9,118.9 307.3,118.3 307.7,119.3 308.1,120.1 308.5,120.1 308.8,120.2 309.2,122.8 309.6,124.2 310.0,128.6 311.0,124.2 312.0,129.2 313.0,125.3 314.0,126.4 315.0,129.3 316.0,128.8 317.0,126.1 318.0,123.5 319.0,125.4 320.0,124.3 321.0,127.7 322.0,124.1 323.0,125.4 324.0,128.8 325.0,124.4 326.0,126.4 327.0,128.5 328.0,128.2 329.0,124.0 330.0,123.9 331.0,124.2 332.0,129.1 333.0,125.4 334.0,128.3 335.0,129.2 335.8,126.8 336.7,127.1 337.5,131.6 338.3,130.3 339.2,129.0 340.0,131.9 340.4,131.6 340.7,132.1 341.1,134.5 341.4,135.7 341.8,136.2 342.1,137.8 342.5,137.1 342.9,138.5 343.2,140.0 343.6,141.8 343.9,142.8 344.3,142.8 344.6,143.6 345.0,144.9 345.3,146.0 345.5,147.8 345.8,147.4 346.1,149.5 346.3,150.4 346.6,151.6 346.9,152.5 347.1,153.2 347.4,153.7 347.7,154.7 347.9,155.8 348.2,157.5 348.5,157.2 348.7,158.5 349.0,160.5 349.2,160.5 349.5,161.2 349.8,162.2 350.0,164.1 350.2,164.7 350.5,166.9 350.8,167.7 351.0,168.9 351.2,168.6 351.5,169.3 351.8,170.3 352.0,172.0 352.3,173.4 352.7,173.9 353.0,174.5 353.3,175.9 353.7,177.2 354.0,178.3 354.4,177.4 354.8,176.6 355.2,175.3 355.6,173.3 356.0,173.6 356.4,171.6 356.8,171.1 357.2,169.8 357.6,169.4 358.0,167.5 358.2,166.5 358.5,165.5 358.7,164.4 358.9,164.7 359.2,163.1 359.4,161.7 359.6,160.8 359.9,160.9 360.1,159.0 360.4,157.5 360.6,157.6 360.8,156.3 361.1,155.9 361.3,153.3 361.5,153.0 361.8,152.6 362.0,151.6 362.3,152.7 362.7,152.2 363.0,153.6 363.3,154.3 363.7,155.4 364.0,157.9 364.3,158.1 364.7,159.8 365.0,159.8 365.1,161.7 365.2,161.9 365.2,162.6 365.3,164.5 365.4,165.8 365.5,165.3 365.6,167.2 365.6,168.2 365.7,168.5 365.8,169.8 365.9,170.4 366.0,171.5 366.0,172.6 366.1,174.2 366.2,175.3 366.3,175.5 366.4,176.1 366.4,177.7 366.5,179.3 366.6,179.4 366.7,180.7 366.8,181.5 366.8,183.5 366.9,184.1 367.0,184.2 367.1,185.3 367.2,186.8 367.3,188.1 367.4,189.3 367.5,189.3 367.6,190.4 367.7,192.4 367.8,192.8 367.9,193.6 368.0,194.7 368.1,196.8 368.2,196.7 368.3,198.1 368.4,198.7 368.5,199.8 368.6,201.7 368.6,202.9 368.6,202.8 368.7,203.5 368.8,205.4 368.8,205.5 368.9,206.1 368.9,208.7 368.9,208.9 369.0,210.6 369.1,210.8 369.1,212.7 369.1,212.9 369.2,213.4 369.2,214.1 369.3,216.1 369.4,217.3 369.4,218.7 369.4,218.3 369.5,220.2 369.6,220.8 369.6,222.0 369.6,222.4 369.7,223.6 369.8,225.0 369.8,226.8 369.9,226.3 369.9,228.0 369.9,229.5 370.0,230.8 370.1,230.5 370.2,231.3 370.2,233.8 370.3,234.9 370.4,235.0 370.5,235.2 370.6,237.8 370.6,237.8 370.7,239.7 370.8,240.2 370.9,241.6 371.0,241.4 371.0,243.5 371.1,243.5 371.2,244.8 371.3,246.6 371.4,247.6 371.4,247.4 371.5,248.5 371.6,249.8 371.7,251.0 371.8,251.8 371.8,252.3 371.9,253.5 372.0,255.4 372.2,256.7 372.4,256.2 372.6,258.1 372.8,259.5 373.0,259.2 373.2,261.6 373.4,261.3 373.6,263.2 373.8,264.1 374.0,265.2 374.2,265.7 374.4,266.9 374.6,268.1 374.8,268.9 375.0,270.3 375.4,270.9 375.8,271.9 376.2,272.1 376.5,274.2 376.9,275.0 377.3,275.5 377.7,277.5 378.1,278.5 378.5,278.9 378.8,279.4 379.2,281.0 379.6,281.3 380.0,282.3 380.5,283.8 380.9,284.1 381.4,285.6 381.8,286.7 382.3,286.7 382.7,288.7 383.2,288.6 383.6,290.7 384.1,291.7 384.5,292.1 385.0,292.2 385.3,292.0 385.7,290.8 386.0,290.8 386.3,288.3 386.7,288.6 387.0,287.9 387.3,286.4 387.7,285.6 388.0,283.4 388.2,283.9 388.4,282.0 388.6,281.8 388.8,280.7 388.9,278.4 389.1,278.5 389.3,277.8 389.5,275.2 389.7,274.7 389.9,274.5 390.1,272.4 390.2,272.7 390.4,270.6 390.6,270.6 390.8,268.4 391.0,268.0 391.2,267.8 391.4,265.5 391.6,264.6 391.8,264.0 392.0,262.7 392.2,261.2 392.4,260.4 392.6,259.4 392.8,259.8 393.0,258.3 393.2,257.7 393.4,255.4 393.6,255.5 393.8,253.3 394.0,253.1 395.0,252.2 396.0,250.7 396.1,252.7 396.2,253.1 396.4,254.1 396.5,255.7 396.6,255.3 396.7,257.9 396.8,258.2 396.9,258.8 397.1,260.5 397.2,260.6 397.3,262.9 397.4,263.1 397.5,263.7 397.6,265.5 397.8,265.9 397.9,266.4 398.0,268.4 398.1,268.2 398.2,270.6 398.2,270.6 398.3,272.3 398.4,273.9 398.5,274.2 398.6,275.3 398.7,275.7 398.8,276.1 398.8,277.2 398.9,278.4 399.0,280.2 399.1,280.9 399.2,282.0 399.2,283.7 399.3,283.3 399.4,284.5 399.5,286.3 399.6,286.1 399.7,287.1 399.8,288.7 399.8,289.3 399.9,290.7 400.0,291.5 400.2,293.2 400.4,294.2 400.7,294.5 400.9,296.2 401.1,297.0 401.3,297.3 401.6,299.8 401.8,299.5 402.0,300.4 402.6,299.5 403.2,299.6 403.8,299.3 404.4,298.3 405.0,296.8 405.2,295.6 405.5,294.1 405.7,294.3 405.9,293.1 406.2,291.7 406.4,291.3 406.6,289.9 406.8,289.8 407.1,288.4 407.3,286.5 407.5,286.7 407.8,284.2 408.0,284.1 408.2,282.8 408.4,281.5 408.7,280.2 408.9,280.5 409.1,278.1 409.3,278.1 409.6,277.8 409.8,275.4 410.0,274.5 410.2,274.2 410.4,273.0 410.7,272.3 410.9,271.6 411.1,269.4 411.3,268.7 411.6,267.6 411.8,266.2 412.0,266.7 412.2,265.5 412.3,264.4 412.5,262.1 412.6,262.6 412.8,261.4 412.9,259.9 413.1,259.4 413.2,257.9 413.4,256.5 413.5,255.3 413.7,254.5 413.8,253.2 414.0,252.7 414.2,252.4 414.3,251.4 414.5,250.6 414.6,249.4 414.8,247.6 414.9,247.1 415.1,245.9 415.2,245.5 415.4,244.0 415.5,242.6 415.7,242.3 415.8,241.8 416.0,239.5 416.1,239.7 416.2,237.1 416.3,236.6 416.4,235.5 416.5,235.4 416.5,234.8 416.6,233.4 416.7,231.7 416.8,231.7 416.9,229.7 417.0,228.5 417.1,228.7 417.2,227.2 417.3,226.3 417.4,225.3 417.5,224.9 417.5,222.9 417.6,222.6 417.7,221.4 417.8,220.6 417.9,218.9 418.0,218.4 418.1,217.1 418.2,215.7 418.3,214.5 418.4,214.2 418.5,212.2 418.5,212.7 418.6,210.4 418.7,209.1 418.8,208.3 418.9,208.8 419.0,206.7 419.1,205.4 419.2,204.2 419.3,203.2 419.4,203.3 419.5,202.2 419.6,201.4 419.6,200.4 419.7,198.2 419.8,198.2 419.9,196.8 420.0,196.6 420.1,195.6 420.2,194.7 420.3,192.2 420.4,192.7 420.5,191.7 420.6,190.8 420.7,188.3 420.8,187.5 420.9,186.3 420.9,185.2 421.0,185.6 421.1,184.6 421.2,183.2 421.3,182.6 421.4,181.2 421.5,179.6 421.6,178.3 421.7,177.3 421.8,177.5 421.8,175.5 421.9,174.7 422.0,173.9 422.1,172.1 422.2,171.6 422.2,170.6 422.3,170.4 422.4,168.8 422.5,167.7 422.6,167.8 422.7,166.0 422.8,165.6 422.8,164.2 422.9,162.2 423.0,161.8 423.1,160.9 423.2,160.5 423.2,158.7 423.3,158.4 423.4,157.1 423.5,155.5 423.6,155.7 423.7,153.3 423.8,153.6 423.8,151.4 423.9,150.1 424.0,149.5 424.1,149.5 424.2,148.9 424.4,146.1 424.5,146.0 424.6,145.0 424.7,144.5 424.8,142.4 424.9,142.0 425.1,140.7 425.2,140.6 425.3,138.6 425.4,138.8 425.5,136.6 425.6,135.5 425.8,135.4 425.9,134.0 426.0,132.3 426.4,132.2 426.8,130.2 427.2,130.5 427.6,129.4 428.0,128.5 428.2,129.2 428.5,129.7 428.8,130.8 429.0,131.8 429.2,133.7 429.5,133.3 429.8,135.7 430.0,135.1 430.2,136.5 430.5,137.6 430.8,139.7 431.0,140.0 431.2,140.8 431.4,142.7 431.6,142.6 431.8,144.0 432.0,145.2 432.2,146.6 432.4,147.6 432.6,148.5 432.8,149.0 433.0,150.0 433.2,150.7 433.4,152.9 433.6,153.6 433.8,154.8 434.0,154.8 434.3,154.3 434.5,153.8 434.8,152.5 435.1,150.6 435.3,150.2 435.6,149.9 435.9,147.7 436.1,146.6 436.4,145.8 436.7,145.5 436.9,144.7 437.2,142.5 437.5,141.4 437.7,140.6 438.0,139.7 438.2,139.0 438.4,137.4 438.5,136.7 438.7,135.4 438.9,135.9 439.1,134.4 439.2,132.3 439.4,132.8 439.6,130.3 439.8,129.8 440.0,129.9 440.1,128.5 440.3,127.4 440.5,125.9 440.7,124.5 440.9,124.2 441.0,122.3 441.2,121.5 441.4,120.8 441.6,119.2 441.8,118.8 441.9,118.5 442.1,117.3 442.3,116.0 442.5,115.2 442.6,113.9 442.8,112.4 443.0,112.2 443.5,110.8 444.0,110.4 444.5,109.7 445.0,107.9 445.5,107.1 446.0,106.4 446.6,106.7 447.2,107.1 447.8,108.8 448.4,109.9 449.0,110.5 450.0,110.7 451.0,111.3 452.0,111.3 453.0,111.9 454.0,112.3 455.0,112.7 455.2,112.2 455.5,110.3 455.7,109.9 455.9,109.5 456.2,108.4 456.4,107.2 456.6,105.6 456.8,104.9 457.1,103.9 457.3,103.2 457.5,101.8 457.8,101.3 458.0,100.8 458.2,98.4 458.4,98.3 458.7,97.5 458.9,95.8 459.1,95.0 459.3,94.9 459.6,92.2 459.8,92.1 460.0,90.4 460.2,90.5 460.4,89.8 460.7,88.0 460.9,86.3 461.1,86.1 461.3,85.1 461.6,84.4 461.8,83.0 462.0,82.3 462.5,81.7 462.9,80.2 463.4,79.1 463.8,79.2 464.3,77.0 464.8,76.9 465.2,75.5 465.7,75.3 466.1,73.2 466.6,73.9 467.1,73.7 467.6,74.2 468.0,75.6 468.5,76.8 469.0,77.1 469.2,78.9 469.4,79.9 469.5,81.4 469.7,81.7 469.9,82.6 470.1,83.5 470.2,85.4 470.4,86.8 470.6,87.0 470.8,87.5 470.9,89.5 471.1,89.8 471.3,90.5 471.5,91.3 471.6,93.5 471.8,94.6 472.0,95.2 472.3,95.9 472.6,97.1 472.9,97.5 473.2,99.8 473.5,99.7 473.8,101.2 474.2,102.6 474.5,103.6 474.8,103.9 475.1,104.6 475.4,106.1 475.7,106.3 476.0,108.6 476.4,108.7 476.8,110.6 477.1,110.6 477.5,111.8 477.9,112.6 478.2,113.9 478.6,114.4 479.0,115.1 479.6,117.2 480.2,117.2 480.8,117.9 481.4,118.8 482.0,120.0 482.6,119.1 483.2,118.6 483.8,117.9 484.4,116.6 485.0,116.8 485.4,115.6 485.8,113.2 486.2,113.6 486.6,112.7 487.0,111.5 487.4,109.4 487.8,109.6 488.2,108.2 488.6,106.1 489.0,105.1 489.4,105.9 489.7,104.4 490.1,102.7 490.4,101.5 490.8,100.7 491.1,99.9 491.5,99.9 491.8,98.2 492.2,96.9 492.5,97.3 492.9,96.2 493.2,94.1 493.6,94.5 493.9,93.0 494.3,92.4 494.6,91.2 495.0,90.0" fill="none" stroke="#ff0000" stroke-width="2.6" stroke-linejoin="round"/>
<polyline points="297.5,104.0 297.7,105.0 297.9,106.1 298.1,108.5 298.3,109.2 298.5,110.4 298.8,109.2 299.0,112.0 299.2,112.4 299.4,114.2 299.6,114.2 299.8,116.8 300.0,116.7 300.2,116.7 300.4,117.6 300.7,118.3 300.9,120.6 301.1,120.0 301.3,122.5 301.6,122.4 301.8,124.7 302.0,125.7 302.2,126.9 302.4,129.1 302.7,127.1 302.9,131.1 303.1,130.8 303.3,132.1 303.6,133.5 303.8,135.2 304.0,134.5 304.5,135.6 304.9,138.5 305.4,136.2 305.8,139.2 306.3,140.1 306.8,138.8 307.2,141.9 307.7,143.0 308.2,144.9 308.6,143.6 309.1,146.9 309.5,146.1 310.0,146.9 311.0,148.2 312.0,144.8 313.0,147.0 314.0,146.5 315.0,145.2 316.0,146.8 317.0,145.0 318.0,145.4 319.0,145.6 320.0,146.5 321.0,144.5 322.0,145.3 322.8,144.5 323.6,144.3 324.3,144.5 325.1,141.9 325.9,143.1 326.7,140.8 327.4,140.5 328.2,138.9 329.0,139.0 329.6,139.9 330.2,137.9 330.8,137.5 331.4,135.0 332.0,134.1 332.6,133.2 333.2,133.4 333.8,132.7 334.4,131.8 335.0,129.8 335.9,131.5 336.7,132.4 337.6,132.5 338.4,132.4 339.3,133.4 340.1,133.6 341.0,134.5 341.4,136.7 341.8,137.2 342.2,138.3 342.6,139.5 343.0,140.7 343.4,141.2 343.8,142.2 344.2,143.2 344.6,144.3 345.0,145.2 345.3,146.3 345.6,146.5 345.9,148.3 346.2,148.9 346.5,150.4 346.8,150.4 347.1,151.5 347.4,152.3 347.7,154.4 348.0,155.7 348.3,156.2 348.6,156.8 348.9,158.5 349.2,159.5 349.5,160.1 349.8,160.6 350.0,161.7 350.3,162.9 350.5,163.7 350.8,164.9 351.1,166.2 351.3,167.7 351.6,167.3 351.8,169.1 352.1,169.3 352.3,170.4 352.6,172.5 352.8,173.1 353.1,174.7 353.3,174.9 353.6,175.2 353.8,176.8 354.0,178.1 354.3,179.7 354.5,180.8 354.8,181.0 355.0,181.9 355.5,180.4 356.0,180.2 356.5,178.5 357.0,177.4 357.5,176.2 358.0,175.2 358.2,175.3 358.5,173.3 358.8,173.6 359.0,171.2 359.2,171.4 359.5,169.2 359.8,167.9 360.0,168.0 360.2,166.2 360.5,166.0 360.8,164.0 361.0,162.8 361.4,162.9 361.7,161.7 362.1,160.9 362.4,159.6 362.8,157.5 363.1,157.3 363.5,156.3 363.8,157.0 364.1,158.8 364.3,158.8 364.6,161.0 364.9,161.6 365.2,161.6 365.4,162.6 365.7,164.7 366.0,166.0 366.1,165.9 366.3,167.3 366.4,169.0 366.6,169.1 366.7,171.3 366.9,171.7 367.0,172.0 367.1,173.6 367.3,174.9 367.4,175.8 367.6,177.2 367.7,177.4 367.9,179.4 368.0,179.8 368.1,181.2 368.1,182.2 368.2,182.9 368.3,183.8 368.4,185.5 368.4,186.7 368.5,187.5 368.6,188.1 368.7,188.7 368.8,189.3 368.8,191.8 368.9,192.3 369.0,193.5 369.1,193.7 369.1,195.2 369.2,196.8 369.3,197.5 369.4,198.2 369.4,198.7 369.5,199.9 369.6,201.6 369.6,201.8 369.6,203.3 369.7,204.2 369.8,205.6 369.8,206.5 369.9,206.7 369.9,207.2 369.9,208.6 370.0,209.9 370.1,211.1 370.1,212.5 370.1,213.6 370.2,213.3 370.2,215.5 370.3,216.5 370.4,217.6 370.4,218.1 370.4,218.6 370.5,220.6 370.6,221.5 370.6,222.3 370.6,223.7 370.7,223.8 370.8,224.3 370.8,226.1 370.9,227.5 370.9,227.5 370.9,229.4 371.0,230.7 371.1,230.6 371.2,232.2 371.2,233.3 371.3,233.9 371.4,234.5 371.5,235.6 371.6,237.4 371.6,238.5 371.7,238.9 371.8,239.3 371.9,241.5 372.0,242.4 372.0,242.6 372.1,244.1 372.2,245.6 372.3,246.6 372.4,247.0 372.4,248.0 372.5,249.1 372.6,249.5 372.7,250.5 372.8,251.5 372.8,253.3 372.9,253.8 373.0,255.1 373.2,255.8 373.5,257.0 373.7,257.4 373.9,258.3 374.2,260.8 374.4,260.8 374.6,261.4 374.8,263.2 375.1,264.5 375.3,264.4 375.5,266.2 375.8,266.8 376.0,268.0 376.4,268.2 376.8,269.1 377.2,271.6 377.5,272.3 377.9,272.6 378.3,273.6 378.7,274.1 379.1,275.8 379.5,276.2 379.8,277.9 380.2,278.6 380.6,279.6 381.0,280.7 381.4,280.5 381.8,281.1 382.2,282.3 382.7,283.2 383.1,283.9 383.5,284.8 383.9,286.5 384.3,287.9 384.8,288.2 385.2,289.9 385.6,290.7 386.0,290.3 386.3,290.2 386.7,288.8 387.0,287.4 387.3,287.7 387.7,285.6 388.0,285.1 388.3,284.2 388.7,283.7 389.0,282.3 389.2,280.8 389.4,279.9 389.6,278.5 389.8,278.7 389.9,277.8 390.1,275.6 390.3,274.3 390.5,273.6 390.7,272.8 390.9,272.6 391.1,271.6 391.2,270.5 391.4,268.3 391.6,268.5 391.8,267.3 392.0,266.2 392.2,265.8 392.4,263.3 392.5,262.4 392.7,262.4 392.9,261.7 393.1,260.3 393.2,258.7 393.4,258.1 393.6,257.4 393.8,255.4 394.0,254.7 394.1,253.6 394.3,252.4 394.5,252.0 394.9,250.5 395.2,249.6 395.6,248.4 395.9,248.3 396.3,246.2 396.4,248.3 396.5,248.5 396.6,249.3 396.8,251.7 396.9,251.6 397.0,253.7 397.1,254.6 397.2,255.6 397.3,255.4 397.4,256.9 397.5,257.4 397.7,259.7 397.8,260.5 397.9,261.2 398.0,261.9 398.1,262.7 398.1,264.5 398.2,265.0 398.3,266.2 398.4,266.4 398.4,267.6 398.5,268.3 398.6,270.3 398.6,271.1 398.7,271.4 398.8,273.6 398.9,273.6 398.9,274.9 399.0,275.4 399.1,276.6 399.1,278.5 399.2,278.7 399.3,279.5 399.4,281.0 399.4,281.7 399.5,283.6 399.6,283.4 399.6,285.8 399.7,285.3 399.8,287.6 399.9,288.3 399.9,288.5 400.0,290.0 400.2,290.7 400.4,291.6 400.7,292.5 400.9,293.8 401.1,295.8 401.3,296.8 401.6,297.7 401.8,297.4 402.0,298.7 402.6,298.6 403.2,296.3 403.8,296.4 404.4,294.7 405.0,294.8 405.2,292.2 405.5,292.5 405.8,290.7 406.0,289.4 406.2,288.2 406.5,288.5 406.8,287.0 407.0,285.5 407.2,284.9 407.5,284.7 407.8,282.5 408.0,282.1 408.2,280.4 408.5,279.5 408.7,279.4 408.9,278.3 409.1,276.5 409.3,275.3 409.5,274.3 409.7,274.2 409.9,273.0 410.1,271.6 410.2,270.5 410.4,270.2 410.6,269.3 410.8,268.5 411.0,267.1 411.2,265.5 411.4,264.3 411.6,264.4 411.8,262.9 412.0,262.4 412.3,260.3 412.6,260.5 412.9,258.7 413.2,258.5 413.5,257.6 413.8,256.0 414.0,254.2 414.3,254.7 414.6,253.0 414.9,252.6 415.2,250.6 415.5,249.5 415.6,249.5 415.7,247.8 415.7,246.5 415.8,245.8 415.9,245.2 416.0,243.2 416.1,243.0 416.1,241.9 416.2,241.0 416.3,239.4 416.4,239.3 416.4,238.5 416.5,237.6 416.6,235.7 416.7,235.3 416.8,233.8 416.8,233.4 416.9,231.3 417.0,231.6 417.1,230.7 417.2,229.0 417.2,228.0 417.3,227.0 417.4,226.1 417.5,224.2 417.6,224.7 417.6,222.6 417.7,221.5 417.8,220.4 417.9,219.6 417.9,219.5 418.0,217.2 418.1,216.4 418.2,216.3 418.3,214.5 418.3,213.2 418.4,213.2 418.5,212.1 418.6,211.0 418.7,210.3 418.8,208.4 418.9,208.6 419.0,207.3 419.1,205.3 419.2,204.4 419.4,204.0 419.5,203.0 419.6,201.6 419.7,200.4 419.8,199.8 419.9,198.4 420.0,198.1 420.1,197.6 420.2,195.4 420.3,195.1 420.4,194.4 420.5,192.5 420.6,192.5 420.7,191.7 420.8,189.8 420.9,188.9 421.0,188.5 421.2,187.0 421.3,185.8 421.4,185.7 421.5,184.4 421.6,182.7 421.7,181.6 421.8,180.7 421.9,179.9 422.0,179.8 422.0,178.5 422.1,177.7 422.2,176.5 422.2,175.6 422.3,173.3 422.4,173.0 422.4,172.7 422.5,171.7 422.6,169.6 422.6,168.9 422.7,168.2 422.8,166.8 422.8,166.0 422.9,164.3 422.9,163.9 423.0,163.0 423.1,161.2 423.1,160.4 423.2,160.8 423.3,159.4 423.3,158.7 423.4,157.2 423.5,156.5 423.5,155.6 423.6,154.6 423.7,152.3 423.7,152.2 423.8,150.6 423.9,150.3 423.9,148.6 424.0,148.1 424.1,147.7 424.2,146.2 424.3,144.6 424.3,144.0 424.4,142.9 424.5,142.7 424.6,140.7 424.7,139.7 424.8,139.2 424.9,137.4 425.0,137.2 425.0,136.7 425.1,135.0 425.2,133.6 425.3,132.9 425.4,132.1 425.5,130.4 425.6,129.4 425.7,128.4 425.7,127.7 425.8,126.9 425.9,125.7 426.0,124.6 426.2,123.3 426.4,123.1 426.6,122.5 426.8,121.2 426.9,120.1 427.1,119.2 427.3,117.5 427.5,117.3 427.8,117.9 428.1,119.1 428.4,120.2 428.8,121.0 429.1,121.7 429.4,122.6 429.7,123.6 430.0,125.0 430.1,125.8 430.3,127.2 430.4,127.3 430.5,128.9 430.7,130.7 430.8,130.8 431.0,132.3 431.1,133.2 431.2,133.9 431.4,136.1 431.5,136.0 431.6,137.8 431.8,137.9 431.9,138.8 432.0,141.1 432.2,141.4 432.3,141.8 432.5,143.4 432.6,144.5 432.7,146.0 432.9,146.0 433.0,147.3 433.2,147.5 433.5,146.1 433.8,144.2 434.0,143.5 434.2,142.6 434.5,142.1 434.8,141.0 435.0,140.4 435.2,139.4 435.5,137.9 435.8,137.3 436.0,136.3 436.2,135.4 436.5,133.9 436.8,133.4 437.0,132.3 437.2,131.7 437.4,129.4 437.5,129.6 437.7,127.2 437.9,127.4 438.1,126.1 438.3,125.0 438.5,124.7 438.6,123.1 438.8,121.9 439.0,121.5 439.2,120.6 439.4,119.2 439.5,117.8 439.7,116.9 439.9,115.9 440.1,115.4 440.3,113.7 440.5,112.8 440.6,112.1 440.8,110.8 441.0,109.7 441.4,109.5 441.8,108.6 442.2,107.0 442.6,105.9 443.0,104.5 443.4,103.7 443.8,102.4 444.2,102.1 444.6,101.1 445.0,99.3 446.0,100.1 447.0,98.5 447.4,100.4 447.8,101.4 448.2,102.7 448.6,102.5 449.0,103.9 450.0,104.9 451.0,103.7 452.0,104.0 453.0,105.1 453.7,104.2 454.3,104.0 455.0,102.9 455.7,101.7 456.3,101.6 457.0,100.0 457.2,99.0 457.5,98.3 457.8,96.8 458.0,95.8 458.2,95.2 458.5,93.8 458.8,93.7 459.0,92.3 459.2,91.0 459.5,89.4 459.8,88.8 460.0,87.8 460.2,87.1 460.5,86.1 460.7,85.6 460.9,84.7 461.2,83.0 461.4,81.9 461.6,81.2 461.8,80.8 462.1,78.7 462.3,78.0 462.5,77.5 462.8,75.5 463.0,74.7 463.4,74.8 463.7,73.5 464.1,72.0 464.4,70.4 464.8,70.6 465.1,69.3 465.5,68.5 465.9,67.8 466.2,66.6 466.6,64.9 466.9,63.5 467.3,62.7 467.6,62.0 468.0,61.0 468.3,61.5 468.5,62.5 468.8,64.2 469.1,65.2 469.4,65.8 469.6,67.8 469.9,68.2 470.2,68.3 470.5,69.9 470.7,71.5 471.0,71.7 471.1,73.3 471.3,73.2 471.4,74.7 471.6,76.5 471.8,77.1 471.9,78.3 472.1,78.5 472.2,80.0 472.4,81.1 472.5,81.6 472.6,83.2 472.8,84.1 472.9,85.8 473.1,86.1 473.2,86.9 473.4,87.4 473.6,88.5 473.7,90.4 473.9,90.4 474.0,91.4 474.2,92.5 474.4,94.0 474.7,95.5 474.9,96.2 475.1,97.5 475.3,97.3 475.6,98.2 475.8,100.4 476.0,101.6 476.2,100.4 476.4,101.0 476.7,105.0 476.9,104.6 477.1,104.0 477.3,108.0 477.6,108.5 477.8,108.2 478.0,111.0 478.2,110.8 478.5,113.9 478.8,113.1 479.0,114.7 479.2,114.7 479.5,116.7 479.8,115.8 480.0,118.5 480.2,118.4 480.5,118.9 480.8,122.4 481.0,121.9 481.2,122.5 481.4,123.4 481.6,122.8 481.9,125.9 482.1,125.4 482.3,126.6 482.5,128.9 482.7,128.4 482.9,129.7 483.1,133.0 483.4,132.2 483.6,135.8 483.8,133.9 484.0,135.9 484.2,134.6 484.4,134.7 484.6,132.4 484.9,132.2 485.1,132.2 485.3,129.6 485.5,129.0 485.7,129.0 485.9,126.4 486.1,125.1 486.4,125.0 486.6,124.5 486.8,122.3 487.0,120.0 487.2,120.8 487.4,118.7 487.6,118.5 487.8,117.2 488.0,115.6 488.2,114.1 488.4,114.5 488.6,115.5 488.8,115.0 489.0,111.1 489.2,108.8 489.4,110.9 489.6,108.4 489.8,109.1 490.0,108.0 490.2,105.8 490.4,105.2 490.6,103.5 490.8,102.4 491.0,102.7 491.2,101.4 491.4,100.3 491.6,98.3 491.8,97.3 492.0,96.5 492.2,95.5 492.4,94.7 492.6,93.8 492.8,92.3 493.0,91.7 493.2,91.2 493.4,89.5 493.6,89.5 493.8,88.1 494.0,87.3 494.2,85.6 494.4,84.9 494.6,84.3 494.8,82.8 495.0,82.0" fill="none" stroke="#0000ff" stroke-width="2.8" stroke-linejoin="round"/>
<text x="518.5" y="28.3" font-family="Liberation Sans, sans-serif" font-weight="bold" font-size="29" fill="#000">c</text>
<rect x="562.5" y="7.4" width="192" height="152.9" fill="none" stroke="#000" stroke-width="1.4"/><g stroke="#000" stroke-width="1.4"><line x1="562.5" y1="27.3" x2="566.8" y2="27.3"/><line x1="562.5" y1="93.5" x2="566.8" y2="93.5"/><line x1="562.5" y1="160.2" x2="566.8" y2="160.2"/><line x1="562.5" y1="60.4" x2="565" y2="60.4"/><line x1="562.5" y1="126.8" x2="565" y2="126.8"/><line x1="562.5" y1="160.3" x2="562.5" y2="155.70000000000002"/><line x1="578.5" y1="160.3" x2="578.5" y2="157.70000000000002"/><line x1="594.6" y1="160.3" x2="594.6" y2="155.70000000000002"/><line x1="610.6" y1="160.3" x2="610.6" y2="157.70000000000002"/><line x1="626.7" y1="160.3" x2="626.7" y2="155.70000000000002"/><line x1="642.7" y1="160.3" x2="642.7" y2="157.70000000000002"/><line x1="658.8" y1="160.3" x2="658.8" y2="155.70000000000002"/><line x1="674.8" y1="160.3" x2="674.8" y2="157.70000000000002"/><line x1="690.8" y1="160.3" x2="690.8" y2="155.70000000000002"/><line x1="706.9" y1="160.3" x2="706.9" y2="157.70000000000002"/><line x1="722.9" y1="160.3" x2="722.9" y2="155.70000000000002"/><line x1="739.0" y1="160.3" x2="739.0" y2="157.70000000000002"/><line x1="755.0" y1="160.3" x2="755.0" y2="155.70000000000002"/></g><text x="562.5" y="172.7" font-family="Liberation Sans, sans-serif" font-weight="bold" font-size="10" text-anchor="middle" stroke="#000" stroke-width="0.3" fill="#000">-0.6</text><text x="594.6" y="172.7" font-family="Liberation Sans, sans-serif" font-weight="bold" font-size="10" text-anchor="middle" stroke="#000" stroke-width="0.3" fill="#000">-0.4</text><text x="626.7" y="172.7" font-family="Liberation Sans, sans-serif" font-weight="bold" font-size="10" text-anchor="middle" stroke="#000" stroke-width="0.3" fill="#000">-0.2</text><text x="658.8" y="172.7" font-family="Liberation Sans, sans-serif" font-weight="bold" font-size="10" text-anchor="middle" stroke="#000" stroke-width="0.3" fill="#000">0.0</text><text x="690.8" y="172.7" font-family="Liberation Sans, sans-serif" font-weight="bold" font-size="10" text-anchor="middle" stroke="#000" stroke-width="0.3" fill="#000">0.2</text><text x="722.9" y="172.7" font-family="Liberation Sans, sans-serif" font-weight="bold" font-size="10" text-anchor="middle" stroke="#000" stroke-width="0.3" fill="#000">0.4</text><text x="755.0" y="172.7" font-family="Liberation Sans, sans-serif" font-weight="bold" font-size="10" text-anchor="middle" stroke="#000" stroke-width="0.3" fill="#000">0.6</text><text x="558.5" y="30.8" font-family="Liberation Sans, sans-serif" font-weight="bold" font-size="10" text-anchor="end" stroke="#000" stroke-width="0.35" fill="#000">2</text><text x="558.5" y="97.0" font-family="Liberation Sans, sans-serif" font-weight="bold" font-size="10" text-anchor="end" stroke="#000" stroke-width="0.35" fill="#000">1</text><text x="558.5" y="163.7" font-family="Liberation Sans, sans-serif" font-weight="bold" font-size="10" text-anchor="end" stroke="#000" stroke-width="0.35" fill="#000">0</text><text x="659" y="185.8" font-family="Liberation Sans, sans-serif" font-weight="bold" font-size="10" text-anchor="middle" stroke="#000" stroke-width="0.35" fill="#000">Energy (eV)</text><text transform="translate(540.5,81.5) rotate(-90)" font-family="Liberation Sans, sans-serif" font-weight="bold" font-size="9.8" text-anchor="middle" stroke="#000" stroke-width="0.3" fill="#000">LDOS (a.u.)</text>
<rect x="562.5" y="203.5" width="192" height="151.7" fill="none" stroke="#000" stroke-width="1.4"/><g stroke="#000" stroke-width="1.4"><line x1="562.5" y1="233.4" x2="566.8" y2="233.4"/><line x1="562.5" y1="294.3" x2="566.8" y2="294.3"/><line x1="562.5" y1="355.1" x2="566.8" y2="355.1"/><line x1="562.5" y1="263.8" x2="565" y2="263.8"/><line x1="562.5" y1="324.7" x2="565" y2="324.7"/><line x1="562.5" y1="355.2" x2="562.5" y2="350.59999999999997"/><line x1="578.5" y1="355.2" x2="578.5" y2="352.59999999999997"/><line x1="594.6" y1="355.2" x2="594.6" y2="350.59999999999997"/><line x1="610.6" y1="355.2" x2="610.6" y2="352.59999999999997"/><line x1="626.7" y1="355.2" x2="626.7" y2="350.59999999999997"/><line x1="642.7" y1="355.2" x2="642.7" y2="352.59999999999997"/><line x1="658.8" y1="355.2" x2="658.8" y2="350.59999999999997"/><line x1="674.8" y1="355.2" x2="674.8" y2="352.59999999999997"/><line x1="690.8" y1="355.2" x2="690.8" y2="350.59999999999997"/><line x1="706.9" y1="355.2" x2="706.9" y2="352.59999999999997"/><line x1="722.9" y1="355.2" x2="722.9" y2="350.59999999999997"/><line x1="739.0" y1="355.2" x2="739.0" y2="352.59999999999997"/><line x1="755.0" y1="355.2" x2="755.0" y2="350.59999999999997"/></g><text x="562.5" y="367.6" font-family="Liberation Sans, sans-serif" font-weight="bold" font-size="10" text-anchor="middle" stroke="#000" stroke-width="0.3" fill="#000">-0.6</text><text x="594.6" y="367.6" font-family="Liberation Sans, sans-serif" font-weight="bold" font-size="10" text-anchor="middle" stroke="#000" stroke-width="0.3" fill="#000">-0.4</text><text x="626.7" y="367.6" font-family="Liberation Sans, sans-serif" font-weight="bold" font-size="10" text-anchor="middle" stroke="#000" stroke-width="0.3" fill="#000">-0.2</text><text x="658.8" y="367.6" font-family="Liberation Sans, sans-serif" font-weight="bold" font-size="10" text-anchor="middle" stroke="#000" stroke-width="0.3" fill="#000">0.0</text><text x="690.8" y="367.6" font-family="Liberation Sans, sans-serif" font-weight="bold" font-size="10" text-anchor="middle" stroke="#000" stroke-width="0.3" fill="#000">0.2</text><text x="722.9" y="367.6" font-family="Liberation Sans, sans-serif" font-weight="bold" font-size="10" text-anchor="middle" stroke="#000" stroke-width="0.3" fill="#000">0.4</text><text x="755.0" y="367.6" font-family="Liberation Sans, sans-serif" font-weight="bold" font-size="10" text-anchor="middle" stroke="#000" stroke-width="0.3" fill="#000">0.6</text><text x="558.5" y="236.9" font-family="Liberation Sans, sans-serif" font-weight="bold" font-size="10" text-anchor="end" stroke="#000" stroke-width="0.35" fill="#000">2</text><text x="558.5" y="297.8" font-family="Liberation Sans, sans-serif" font-weight="bold" font-size="10" text-anchor="end" stroke="#000" stroke-width="0.35" fill="#000">1</text><text x="558.5" y="358.6" font-family="Liberation Sans, sans-serif" font-weight="bold" font-size="10" text-anchor="end" stroke="#000" stroke-width="0.35" fill="#000">0</text><text x="659" y="384.3" font-family="Liberation Sans, sans-serif" font-weight="bold" font-size="10" text-anchor="middle" stroke="#000" stroke-width="0.35" fill="#000">Energy (eV)</text><text transform="translate(541.5,275.6) rotate(-90)" font-family="Liberation Sans, sans-serif" font-weight="bold" font-size="9.8" text-anchor="middle" stroke="#000" stroke-width="0.3" fill="#000">LDOS (a.u.)</text>
<text x="571.5" y="23.6" font-family="Liberation Sans, sans-serif" font-weight="bold" font-style="italic" font-size="11" stroke="#000" stroke-width="0.4" fill="#000">cal.</text>
<text x="640" y="22" font-family="Liberation Sans, sans-serif" font-weight="bold" font-size="10" text-anchor="middle" stroke="#000" stroke-width="0.4" fill="#000">(0,1)</text>
<text x="748" y="22" font-family="Liberation Sans, sans-serif" font-weight="bold" font-size="10" text-anchor="end" stroke="#000" stroke-width="0.4" fill="#000">deformed</text>
<text x="749" y="217" font-family="Liberation Sans, sans-serif" font-weight="bold" font-size="10" text-anchor="end" stroke="#000" stroke-width="0.4" fill="#000">rigidly twisted</text>
<text x="581" y="62.3" font-family="Liberation Sans, sans-serif" font-weight="bold" font-size="10.5" text-anchor="middle" stroke="#ff0000" stroke-width="0.45" fill="#ff0000">AA</text>
<text x="580.5" y="137" font-family="Liberation Sans, sans-serif" font-weight="bold" font-size="10.5" text-anchor="middle" stroke="#0000ff" stroke-width="0.45" fill="#0000ff">AB</text>
<text x="580.6" y="282.6" font-family="Liberation Sans, sans-serif" font-weight="bold" font-size="10.5" text-anchor="middle" stroke="#ff0000" stroke-width="0.45" fill="#ff0000">AA</text>
<text x="580.6" y="329.4" font-family="Liberation Sans, sans-serif" font-weight="bold" font-size="10.5" text-anchor="middle" stroke="#0000ff" stroke-width="0.45" fill="#0000ff">AB</text>
<text x="571.5" y="79.1" font-family="Liberation Sans, sans-serif" font-weight="bold" font-size="9.2" text-anchor="middle" stroke="#000" stroke-width="0.5" fill="#000">-5</text>
<text x="596.3" y="88.6" font-family="Liberation Sans, sans-serif" font-weight="bold" font-size="9.2" text-anchor="middle" stroke="#000" stroke-width="0.5" fill="#000">-4</text>
<text x="615.9" y="86.3" font-family="Liberation Sans, sans-serif" font-weight="bold" font-size="9.2" text-anchor="middle" stroke="#000" stroke-width="0.5" fill="#000">-3</text>
<text x="633" y="77.39999999999999" font-family="Liberation Sans, sans-serif" font-weight="bold" font-size="9.2" text-anchor="middle" stroke="#000" stroke-width="0.5" fill="#000">-2</text>
<text x="687.4" y="55.3" font-family="Liberation Sans, sans-serif" font-weight="bold" font-size="9.2" text-anchor="middle" stroke="#000" stroke-width="0.5" fill="#000">2</text>
<text x="704.8" y="81.6" font-family="Liberation Sans, sans-serif" font-weight="bold" font-size="9.2" text-anchor="middle" stroke="#000" stroke-width="0.5" fill="#000">3</text>
<text x="724.5" y="85.1" font-family="Liberation Sans, sans-serif" font-weight="bold" font-size="9.2" text-anchor="middle" stroke="#000" stroke-width="0.5" fill="#000">4</text>
<text x="744.2" y="62.3" font-family="Liberation Sans, sans-serif" font-weight="bold" font-size="9.2" text-anchor="middle" stroke="#000" stroke-width="0.5" fill="#000">5</text>
<polyline points="567.5,87.0 569.0,85.3 571.0,84.4 573.0,85.3 575.0,91.6 578.0,96.1 582.0,98.3 586.0,98.8 590.0,98.3 593.0,97.0 595.0,95.2 597.0,96.1 600.0,101.5 603.0,103.3 605.0,107.8 607.0,108.7 610.0,105.2 612.0,104.8 613.5,100.0 615.0,95.5 616.0,92.4 617.5,94.0 619.0,100.0 620.0,105.5 623.0,110.2 626.0,114.8 628.0,119.5 629.5,118.0 630.5,105.5 631.5,88.5 632.5,82.7 633.5,87.0 634.5,101.0 636.0,119.5 638.0,121.0 641.0,119.5 644.0,117.0 648.0,118.0 650.0,119.5 651.4,128.0 652.2,127.0 653.0,119.5 653.3,25.5 654.5,25.5 654.5,7.4" fill="none" stroke="#ff0000" stroke-width="1.3"/>
<polyline points="657.6,7.4 657.6,28.6 658.3,28.6 659.4,134.5 660.0,125.0 662.0,125.0 665.0,125.5 669.0,126.0 672.0,124.0 675.0,119.0 677.0,111.0 679.0,108.0 681.0,108.0 682.0,112.0 683.0,114.5 684.0,108.0 685.0,90.0 687.0,63.0 689.0,80.0 691.0,112.0 694.0,116.0 697.0,118.5 700.0,100.0 704.0,88.2 708.0,97.0 712.0,109.6 716.0,100.0 720.0,94.0 724.0,90.0 727.0,89.0 730.0,90.0 732.0,94.5 735.0,86.0 738.0,83.0 740.0,81.0 743.0,70.0 746.0,68.0 750.0,71.5 754.0,75.5" fill="none" stroke="#ff0000" stroke-width="1.3"/>
<polyline points="567.5,95.2 567.6,96.8 567.7,98.5 567.8,100.1 567.8,101.7 567.9,103.4 568.0,105.0 568.5,103.2 569.0,101.5 569.2,103.0 569.4,104.5 569.6,106.0 569.8,107.5 570.0,109.0 570.5,110.8 571.0,112.5 571.5,114.2 572.0,116.0 574.0,114.0 575.0,115.9 576.0,117.8 576.8,116.4 577.5,115.0 578.2,113.7 579.0,112.3 579.8,113.7 580.5,115.0 581.2,116.4 582.0,117.8 582.7,119.6 583.3,121.4 584.0,123.2 585.0,122.0 586.0,120.8 587.0,119.6 588.0,118.4 589.0,117.2 590.0,116.0 591.5,115.5 593.0,115.0 593.7,116.5 594.3,118.1 595.0,119.6 595.7,121.4 596.3,123.2 597.0,125.0 597.2,126.6 597.4,128.2 597.6,129.8 597.8,131.4 598.0,132.2 599.0,135.0 600.0,136.4 601.7,136.3 603.3,136.6 605.0,138.6 606.7,138.5 608.3,137.9 610.0,138.6 611.7,139.0 613.3,140.8 615.0,140.5 616.7,142.3 618.3,142.7 620.0,142.3 621.7,144.3 623.3,144.8 625.0,146.4 626.2,147.5 627.5,147.6 628.8,148.3 630.0,150.7 631.7,150.2 633.3,151.4 635.0,151.3 636.7,152.4 638.3,153.5 640.0,154.2 641.7,154.3 643.3,154.0 645.0,155.3 646.7,155.6 648.3,156.4 650.0,157.7 651.7,156.9 653.3,158.4 655.0,157.8 656.7,158.7 658.3,158.7 660.0,157.6 661.7,157.7 663.3,157.3 665.0,157.0 666.7,156.5 668.3,156.0 670.0,155.5 671.7,155.0 673.3,154.5 675.0,154.0 676.2,153.1 677.5,152.2 678.8,151.4 680.0,150.6 681.7,152.2 683.3,151.3 685.0,151.1 686.7,149.5 688.3,148.3 690.0,148.5 691.0,147.5 692.0,145.6 693.0,144.8 694.0,143.0 695.0,143.7 696.7,142.9 698.3,140.8 700.0,140.2 701.2,139.8 702.5,138.3 703.8,138.6 705.0,135.5 706.7,134.7 708.3,135.9 710.0,132.9 711.0,132.7 712.0,130.5 713.0,130.5 714.0,128.2 714.9,127.4 715.7,124.1 716.6,124.2 717.4,122.6 718.3,120.7 719.1,120.3 720.0,119.1 721.2,115.5 722.5,114.8 723.8,113.8 725.0,112.1 726.7,110.6 728.3,110.3 730.0,109.0 731.7,110.0 733.3,108.5 735.0,106.8 736.7,107.1 738.3,107.2 740.0,106.6 741.0,104.5 742.0,102.8 743.0,101.2 744.0,103.0 745.0,100.8 746.2,97.7 747.5,98.7 748.8,98.5 750.0,96.2 752.0,95.2 754.0,97.0" fill="none" stroke="#0000ff" stroke-width="1.3" stroke-dasharray="1.2,1.2"/>
<polyline points="567.4,284.5 568.7,285.0 569.9,285.1 571.2,286.3 572.5,285.9 573.7,288.2 575.0,288.3 576.2,288.7 577.5,289.8 578.8,289.8 580.0,289.6 581.2,290.0 582.5,290.3 583.8,290.6 585.0,292.5 586.2,293.1 587.5,292.6 588.8,292.9 590.0,294.2 591.2,295.1 592.5,295.8 593.8,294.9 595.0,296.5 596.2,297.1 597.5,297.4 598.8,297.2 600.0,297.4 601.2,299.1 602.5,298.7 603.8,299.3 605.0,300.1 606.2,300.4 607.5,301.8 608.8,301.4 610.0,301.7 611.2,303.0 612.5,303.5 613.8,304.2 615.0,304.4 616.0,304.1 617.0,303.5 618.0,302.0 618.7,300.7 619.3,298.7 620.0,297.6 621.0,296.9 622.0,295.7 622.3,297.0 622.6,298.2 622.9,299.5 623.2,300.7 623.5,302.0 623.7,303.2 623.9,304.4 624.1,305.6 624.4,306.9 624.6,308.1 624.8,309.3 625.0,310.5 625.5,309.4 626.0,308.2 626.5,307.1 627.0,306.0 627.2,304.7 627.5,303.3 627.8,302.0 628.0,300.7 628.2,299.3 628.5,298.0 628.6,296.7 628.8,295.4 629.0,294.1 629.1,292.8 629.2,291.5 629.4,290.2 629.5,288.9 629.7,287.6 629.9,286.3 630.0,285.0 630.0,283.8 630.1,282.6 630.1,281.4 630.1,280.2 630.2,279.0 630.2,277.8 630.2,276.6 630.3,275.3 630.3,274.1 630.3,272.9 630.4,271.7 630.4,270.5 630.4,269.3 630.5,268.1 630.5,266.9 630.6,265.7 630.6,264.5 630.6,263.3 630.7,262.1 630.7,260.9 630.7,259.7 630.8,258.4 630.8,257.2 630.8,256.0 630.9,254.8 630.9,253.6 630.9,252.4 631.0,251.2 631.0,250.0 631.0,248.8 631.1,247.5 631.1,246.3 631.2,245.0 631.2,243.8 631.3,242.6 631.3,241.3 631.4,240.1 631.4,238.9 631.5,237.6 631.5,236.4 631.6,235.1 631.6,233.9 631.7,232.7 631.7,231.4 631.8,230.2 631.8,229.0 631.9,227.7 631.9,226.5 632.0,225.2 632.0,224.0 632.0,225.2 632.1,226.5 632.1,227.7 632.2,229.0 632.2,230.2 632.3,231.4 632.3,232.7 632.4,233.9 632.4,235.1 632.5,236.4 632.5,237.6 632.6,238.9 632.6,240.1 632.7,241.3 632.7,242.6 632.8,243.8 632.8,245.0 632.9,246.3 632.9,247.5 633.0,248.8 633.0,250.0 633.0,251.2 633.1,252.5 633.1,253.7 633.1,254.9 633.2,256.1 633.2,257.4 633.2,258.6 633.3,259.8 633.3,261.0 633.3,262.3 633.4,263.5 633.4,264.7 633.4,265.9 633.5,267.2 633.5,268.4 633.5,269.6 633.5,270.8 633.6,272.1 633.6,273.3 633.6,274.5 633.7,275.7 633.7,277.0 633.7,278.2 633.8,279.4 633.8,280.6 633.8,281.9 633.9,283.1 633.9,284.3 633.9,285.5 634.0,286.8 634.0,288.0 634.1,289.2 634.3,290.4 634.5,291.6 634.6,292.8 634.8,294.0 634.9,295.2 635.0,296.4 635.2,297.6 635.4,298.8 635.5,300.0 635.7,301.3 635.9,302.5 636.0,303.8 636.2,305.1 636.4,306.4 636.6,307.6 636.8,308.9 637.0,310.2 637.1,311.5 637.3,312.7 637.5,314.0 637.9,315.3 638.2,316.6 638.6,317.9 638.9,319.1 639.3,320.4 639.6,321.7 640.0,323.0 640.8,324.2 641.5,325.5 642.2,326.8 643.0,328.0 644.3,328.5 645.7,329.0 647.0,329.5 648.2,329.4 649.5,329.2 650.8,329.1 652.0,329.0 652.4,327.8 652.8,326.7 653.2,325.5 653.7,324.3 654.1,323.2 654.5,322.0 654.6,320.8 654.7,319.6 654.8,318.4 654.9,317.1 655.0,315.9 655.1,314.7 655.1,313.5 655.2,312.3 655.3,311.1 655.4,309.9 655.5,308.6 655.6,307.4 655.7,306.2 655.8,305.0 655.8,303.8 655.8,302.6 655.9,301.4 655.9,300.2 655.9,299.0 655.9,297.8 656.0,296.6 656.0,295.3 656.0,294.1 656.0,292.9 656.1,291.7 656.1,290.5 656.1,289.3 656.1,288.1 656.2,286.9 656.2,285.7 656.2,284.5 656.2,283.3 656.3,282.1 656.3,280.9 656.3,279.7 656.3,278.4 656.4,277.2 656.4,276.0 656.4,274.8 656.4,273.6 656.5,272.4 656.5,271.2 656.5,270.0 656.5,268.8 656.5,267.6 656.5,266.4 656.5,265.2 656.5,264.0 656.6,262.7 656.6,261.5 656.6,260.3 656.6,259.1 656.6,257.9 656.6,256.7 656.6,255.5 656.6,254.3 656.6,253.1 656.6,251.9 656.6,250.7 656.7,249.4 656.7,248.2 656.7,247.0 656.7,245.8 656.7,244.6 656.7,243.4 656.7,242.2 656.7,241.0 656.7,239.8 656.7,238.6 656.7,237.4 656.8,236.1 656.8,234.9 656.8,233.7 656.8,232.5 656.8,231.3 656.8,230.1 656.8,228.9 656.8,227.7 656.8,226.5 656.8,225.3 656.8,224.1 656.9,222.8 656.9,221.6 656.9,220.4 656.9,219.2 656.9,218.0 656.9,216.8 656.9,215.6 656.9,214.4 656.9,213.2 656.9,212.0 656.9,210.8 657.0,209.5 657.0,208.3 657.0,207.1 657.0,205.9 657.0,204.7 657.0,203.5" fill="none" stroke="#ff0000" stroke-width="1.3"/>
<polyline points="660.5,203.5 660.5,204.7 660.5,205.9 660.5,207.1 660.5,208.3 660.6,209.5 660.6,210.7 660.6,211.9 660.6,213.1 660.6,214.3 660.6,215.5 660.6,216.7 660.6,217.9 660.6,219.1 660.6,220.3 660.7,221.5 660.7,222.7 660.7,223.9 660.7,225.1 660.7,226.3 660.7,227.5 660.7,228.7 660.7,229.9 660.7,231.1 660.8,232.4 660.8,233.6 660.8,234.8 660.8,236.0 660.8,237.2 660.8,238.4 660.8,239.6 660.8,240.8 660.8,242.0 660.9,243.2 660.9,244.4 660.9,245.6 660.9,246.8 660.9,248.0 660.9,249.2 660.9,250.4 660.9,251.6 660.9,252.8 660.9,254.0 661.0,255.2 661.0,256.4 661.0,257.6 661.0,258.8 661.0,260.0 661.0,261.2 661.1,262.4 661.1,263.6 661.1,264.8 661.2,266.1 661.2,267.3 661.2,268.5 661.2,269.7 661.3,270.9 661.3,272.1 661.3,273.3 661.4,274.5 661.4,275.8 661.4,277.0 661.5,278.2 661.5,279.4 661.5,280.6 661.5,281.8 661.6,283.0 661.6,284.2 661.6,285.5 661.7,286.7 661.7,287.9 661.7,289.1 661.8,290.3 661.8,291.5 661.8,292.7 661.8,293.9 661.9,295.2 661.9,296.4 661.9,297.6 662.0,298.8 662.0,300.0 662.1,301.2 662.2,302.5 662.3,303.7 662.5,304.9 662.6,306.2 662.7,307.4 662.8,308.6 662.9,309.8 663.0,311.1 663.2,312.3 663.3,313.5 663.4,314.8 663.5,316.0 663.9,317.3 664.2,318.6 664.6,319.9 664.9,321.1 665.3,322.4 665.6,323.7 666.0,325.0 667.0,326.0 668.0,327.0 669.0,328.0 670.0,329.0 671.2,329.1 672.4,329.2 673.6,329.3 674.8,329.4 676.0,329.5 677.0,328.6 678.0,327.8 679.0,326.9 680.0,326.0 680.3,324.7 680.7,323.3 681.0,322.0 681.3,320.7 681.7,319.3 682.0,318.0 682.1,316.8 682.2,315.6 682.3,314.4 682.3,313.2 682.4,312.0 682.5,310.8 682.6,309.6 682.7,308.4 682.8,307.2 682.9,306.0 683.0,304.8 683.0,303.6 683.1,302.4 683.2,301.2 683.3,300.0 683.3,298.8 683.4,297.6 683.4,296.4 683.4,295.2 683.4,294.0 683.5,292.8 683.5,291.6 683.5,290.4 683.6,289.2 683.6,288.0 683.6,286.8 683.6,285.6 683.7,284.4 683.7,283.2 683.7,282.0 683.7,280.8 683.8,279.6 683.8,278.4 683.8,277.2 683.9,276.0 683.9,274.8 683.9,273.6 683.9,272.4 684.0,271.2 684.0,270.0 684.0,268.8 684.0,267.5 684.1,266.3 684.1,265.0 684.1,263.8 684.1,262.6 684.1,261.3 684.2,260.1 684.2,258.8 684.2,257.6 684.2,256.4 684.2,255.1 684.3,253.9 684.3,252.6 684.3,251.4 684.3,250.2 684.3,248.9 684.4,247.7 684.4,246.4 684.4,245.2 684.4,244.0 684.4,242.7 684.5,241.5 684.5,240.2 684.5,239.0 684.5,240.2 684.6,241.4 684.6,242.6 684.7,243.8 684.7,245.1 684.8,246.3 684.8,247.5 684.8,248.7 684.9,249.9 684.9,251.1 685.0,252.3 685.0,253.5 685.0,254.7 685.1,255.9 685.1,257.2 685.2,258.4 685.2,259.6 685.3,260.8 685.3,262.0 685.3,263.2 685.4,264.4 685.4,265.6 685.5,266.8 685.5,268.0 685.5,269.2 685.6,270.4 685.6,271.6 685.7,272.8 685.7,274.0 685.7,275.2 685.8,276.4 685.8,277.6 685.9,278.8 685.9,280.0 685.9,281.2 686.0,282.4 686.0,283.6 686.1,284.8 686.1,286.0 686.1,287.2 686.2,288.4 686.2,289.6 686.3,290.8 686.3,292.0 686.5,293.2 686.7,294.5 686.9,295.8 687.1,297.0 687.4,298.2 687.6,299.5 687.8,300.8 688.0,302.0 689.0,303.0 690.0,304.0 690.5,302.8 691.0,301.5 691.5,300.2 692.0,299.0 692.7,300.0 693.3,301.0 694.0,302.0 694.8,303.2 695.5,304.5 696.2,305.8 697.0,307.1 698.5,305.7 700.0,306.3 701.2,305.0 702.5,305.1 703.8,305.7 705.0,303.8 706.2,303.3 707.5,303.6 708.8,302.8 710.0,303.4 711.2,301.6 712.3,302.5 713.5,302.0 714.6,301.4 715.8,300.2 716.9,299.4 718.1,299.5 719.2,298.7 720.4,298.0 721.5,297.3 722.7,297.0 723.8,296.8 725.0,296.6 726.1,296.1 727.1,294.1 728.2,293.7 729.3,293.3 730.4,292.9 731.4,291.9 732.5,291.0 733.6,290.1 734.6,289.9 735.7,289.5 736.8,289.8 737.9,289.0 738.9,288.3 740.0,287.9 741.0,287.2 742.0,285.9 743.0,285.6 744.0,283.5 745.0,284.0 746.0,283.2 747.0,282.0 748.0,281.8 749.0,281.8 750.0,280.3 751.0,279.9 752.0,278.6 753.0,278.1 754.0,278.4 755.0,277.0" fill="none" stroke="#ff0000" stroke-width="1.3"/>
<polyline points="567.0,307.2 568.4,308.2 569.9,309.6 571.3,309.9 572.8,310.0 574.2,311.6 575.7,311.8 577.1,312.8 578.6,313.2 580.0,314.0 581.4,315.0 582.9,315.5 584.3,316.0 585.7,316.9 587.1,318.9 588.6,319.2 590.0,319.4 591.7,321.2 593.3,320.9 595.0,321.4 595.6,323.4 596.2,324.4 596.9,326.1 597.5,327.6 598.1,328.4 598.8,330.4 599.4,331.0 600.0,333.0 601.4,333.7 602.9,333.5 604.3,334.6 605.7,334.6 607.1,335.8 608.6,337.0 610.0,337.1 611.7,337.8 613.3,338.4 615.0,337.9 616.7,339.8 618.3,339.9 620.0,339.4 621.4,341.1 622.9,341.0 624.3,341.2 625.7,343.0 627.1,343.0 628.6,343.9 630.0,343.4 631.4,345.0 632.9,344.4 634.3,345.3 635.7,346.1 637.1,346.1 638.6,347.6 640.0,347.5 641.4,348.3 642.9,349.5 644.3,349.6 645.7,350.9 647.1,351.1 648.6,352.0 650.0,352.1 651.7,353.0 653.3,353.3 655.0,352.5 656.7,353.7 658.3,353.4 660.0,354.4 661.7,354.1 663.3,354.2 665.0,352.9 666.7,353.1 668.3,353.5 670.0,353.7 671.7,352.9 673.3,351.3 675.0,351.7 676.7,350.4 678.3,350.6 680.0,350.5 681.4,348.8 682.9,349.5 684.3,348.6 685.7,347.3 687.1,346.7 688.6,346.5 690.0,346.5 691.4,345.3 692.9,343.7 694.3,342.7 695.7,341.9 697.1,342.2 698.6,340.4 700.0,340.1 701.1,338.7 702.3,338.3 703.4,336.8 704.6,335.4 705.7,335.6 706.9,334.1 708.0,333.3 708.9,332.1 709.8,331.0 710.6,328.1 711.5,327.2 712.4,325.6 713.2,324.8 714.1,324.0 715.0,322.5 716.4,320.5 717.8,319.9 719.2,320.1 720.6,319.1 722.0,317.8 723.3,317.0 724.7,315.5 726.0,315.6 727.3,313.8 728.7,313.6 730.0,312.2 731.4,310.5 732.9,310.0 734.3,309.0 735.7,309.2 737.1,307.9 738.6,306.1 740.0,305.5 741.2,304.9 742.5,304.3 743.8,303.6 745.0,302.5 746.2,301.6 747.5,300.2 748.8,300.3 750.0,299.1 751.2,297.7 752.5,297.6 753.8,297.6 755.0,296.0" fill="none" stroke="#0000ff" stroke-width="1.3" stroke-dasharray="1.2,1.2"/>
<text x="788.5" y="33" font-family="Liberation Sans, sans-serif" font-weight="bold" font-size="29" fill="#000">d</text>
<polygon points="850,17 939.7,17 983.4,92.8 939,169.3 847.4,169.3 805.3,92.5" fill="#a2fc00"/>
<circle cx="860.7" cy="37.3" r="19" fill="url(#gD)"/>
<circle cx="927.5" cy="37.3" r="19" fill="url(#gD)"/>
<circle cx="827" cy="92.5" r="19" fill="url(#gD)"/>
<circle cx="894" cy="92.8" r="19" fill="url(#gD)"/>
<circle cx="961.4" cy="92.5" r="19" fill="url(#gD)"/>
<circle cx="860.9" cy="147.8" r="19" fill="url(#gD)"/>
<circle cx="927.9" cy="147.8" r="19" fill="url(#gD)"/>
<rect x="989.8" y="22" width="12.2" height="141.7" fill="url(#cbD)"/>
<text x="984.5" y="14.5" font-family="Liberation Sans, sans-serif" font-weight="bold" font-style="italic" font-size="17.5" stroke="#000" stroke-width="0.7" fill="#000">V</text>
<text x="997" y="14.5" font-family="Liberation Sans, sans-serif" font-size="17.5" textLength="43.5" lengthAdjust="spacingAndGlyphs" fill="#000">(eV)</text>
<text x="1009.5" y="34" font-family="Liberation Sans, sans-serif" font-size="16" stroke="#000" stroke-width="0.6" textLength="24" lengthAdjust="spacing" fill="#000">0.2</text>
<text x="1021.8" y="100.8" font-family="Liberation Sans, sans-serif" font-size="15" stroke="#000" stroke-width="0.6" text-anchor="middle" fill="#000">0</text>
<text x="1005.5" y="164.2" font-family="Liberation Sans, sans-serif" font-size="16" stroke="#000" stroke-width="0.6" textLength="31.5" lengthAdjust="spacing" fill="#000">-0.2</text>
<text x="793" y="159" font-family="Liberation Sans, sans-serif" font-size="11.5" letter-spacing="1.5" fill="#000">30 nm</text>
<rect x="797" y="162.9" width="30.8" height="3.8" fill="#000"/>
<text x="788.5" y="228.3" font-family="Liberation Sans, sans-serif" font-weight="bold" font-size="29" fill="#000">e</text>
<polygon points="848,217.2 939.5,217.2 983,293.7 940.5,370.3 847.1,370.3 805.2,293.7" fill="#7e0482"/>
<circle cx="860.8" cy="238.9" r="19" fill="url(#gE)"/>
<circle cx="928" cy="238.9" r="19" fill="url(#gE)"/>
<circle cx="828" cy="292.8" r="19" fill="url(#gE)"/>
<circle cx="894.9" cy="292.8" r="19" fill="url(#gE)"/>
<circle cx="961.7" cy="292.8" r="19" fill="url(#gE)"/>
<circle cx="861.4" cy="348.4" r="19" fill="url(#gE)"/>
<circle cx="928.3" cy="348.4" r="19" fill="url(#gE)"/>
<rect x="990.4" y="223.2" width="11.4" height="141.3" fill="url(#cbE)"/>
<text x="982.5" y="216" font-family="Liberation Sans, sans-serif" font-weight="bold" font-size="18.5" fill="#000">B</text>
<text x="996" y="216" font-family="Liberation Sans, sans-serif" font-size="18.5" textLength="31" lengthAdjust="spacingAndGlyphs" fill="#000">(T)</text>
<text x="1017" y="236" font-family="Liberation Sans, sans-serif" font-weight="bold" font-size="15" text-anchor="middle" fill="#000">6</text>
<text x="1017" y="300.5" font-family="Liberation Sans, sans-serif" font-weight="bold" font-size="15" text-anchor="middle" fill="#000">3</text>
<text x="1017" y="365" font-family="Liberation Sans, sans-serif" font-weight="bold" font-size="15" text-anchor="middle" fill="#000">0</text>
<text x="793" y="357.5" font-family="Liberation Sans, sans-serif" font-size="11.5" letter-spacing="1.5" fill="#000">30 nm</text>
<rect x="796.7" y="362.7" width="31.3" height="4" fill="#000"/></svg>
</body></html>
